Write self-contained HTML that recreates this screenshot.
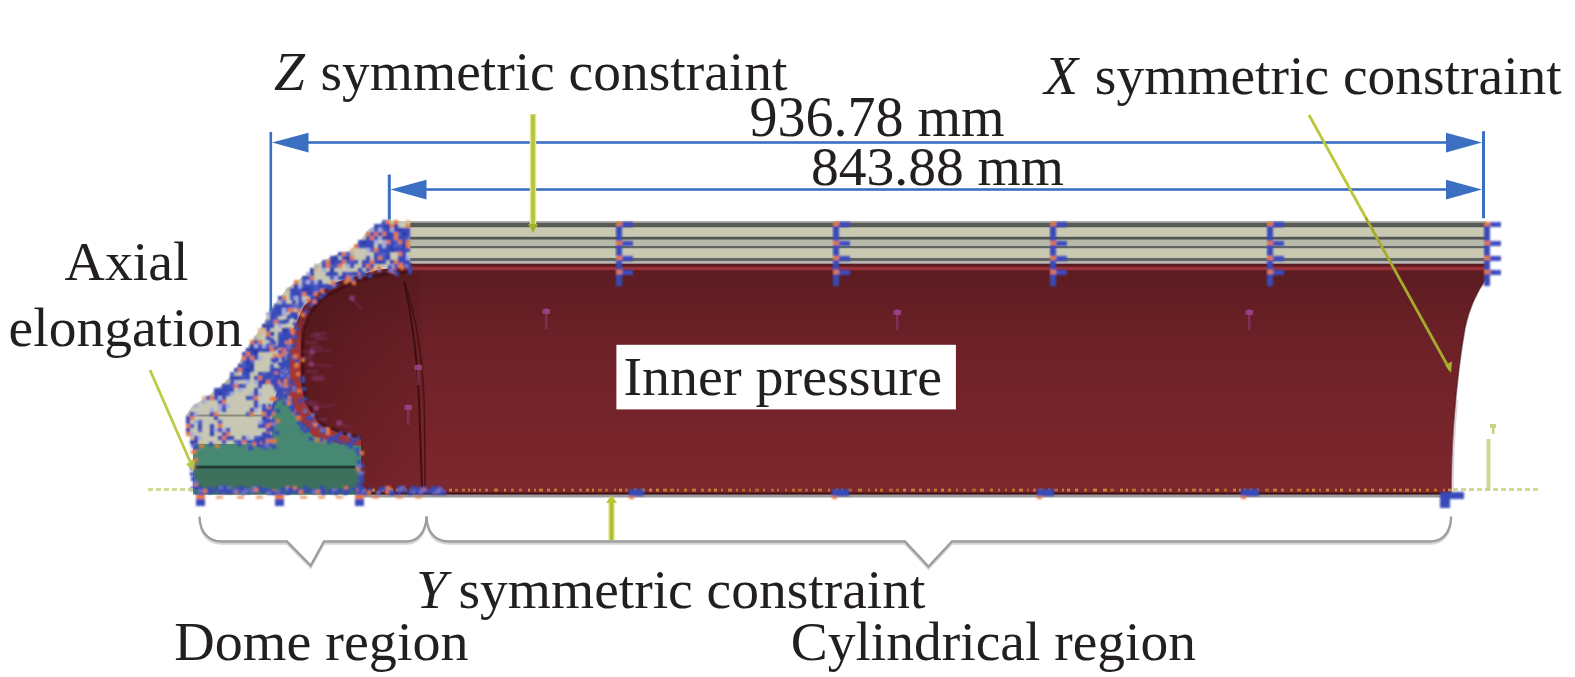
<!DOCTYPE html>
<html><head><meta charset="utf-8"><title>FE model</title>
<style>html,body{margin:0;padding:0;background:#fff;width:1575px;height:677px;overflow:hidden} svg{display:block}</style>
</head><body>
<svg width="1575" height="677" viewBox="0 0 1575 677">
<defs>
<linearGradient id="gBody" x1="0" y1="266" x2="0" y2="494" gradientUnits="userSpaceOnUse">
 <stop offset="0" stop-color="#5b1c21"/>
 <stop offset="0.3" stop-color="#6b2127"/>
 <stop offset="0.7" stop-color="#77242b"/>
 <stop offset="1" stop-color="#7e272e"/>
</linearGradient>
<linearGradient id="gDome" x1="292" y1="0" x2="424" y2="0" gradientUnits="userSpaceOnUse">
 <stop offset="0" stop-color="#1a0000" stop-opacity="0.28"/>
 <stop offset="0.5" stop-color="#1a0000" stop-opacity="0.14"/>
 <stop offset="0.97" stop-color="#1a0000" stop-opacity="0.06"/>
 <stop offset="1" stop-color="#1a0000" stop-opacity="0"/>
</linearGradient>
<linearGradient id="gLiner" x1="0" y1="290" x2="0" y2="345" gradientUnits="userSpaceOnUse">
 <stop offset="0" stop-color="#5e1a24"/>
 <stop offset="0.5" stop-color="#7a2630"/>
 <stop offset="1" stop-color="#a03638"/>
</linearGradient>
<filter id="soft" x="-5%" y="-5%" width="110%" height="110%"><feGaussianBlur stdDeviation="0.85"/></filter>
</defs>
<rect width="1575" height="677" fill="#fff"/>
<g font-family="'Liberation Serif', serif" font-size="55.5" fill="#231f20">
<polygon points="296,300 330,281 380,266 412,262 412,300 300,452 287,420 284,380 288,340" fill="#8a2e34"/>
<path d="M408,264 L1486,264 L1486,279 C1478,290 1469,308 1465,328 C1461,350 1458,375 1456,396 C1454,420 1451.5,440 1451.2,493 L360,493 L360,441 L346,438 L321,428 L304,405 L299,380 L300,348 L304,328 L314,304 L328,293 L338,285 L353,279 L378,270 Z" fill="url(#gBody)"/>
<path d="M408,264 L1486,264 L1486,279 C1478,290 1469,308 1465,328 C1461,350 1458,375 1456,396 C1454,420 1451.5,440 1451.2,493 L360,493 L360,441 L346,438 L321,428 L304,405 L299,380 L300,348 L304,328 L314,304 L328,293 L338,285 L353,279 L378,270 Z" fill="url(#gDome)"/>
<path d="M1486,279 C1478,290 1469,308 1465,328 C1461,350 1458,375 1456,396 C1454,420 1451.5,440 1451.2,493" fill="none" stroke="#40101a" stroke-width="1.6" opacity="0.55"/>
<path d="M1457.5,400 C1455.5,420 1453.2,440 1453,490" fill="none" stroke="#d8c4cc" stroke-width="1.4" opacity="0.8"/>
<path d="M404,281 C408,300 417,340 419,400 C420,430 421,460 422,488" stroke="#3a0b10" stroke-width="2" fill="none" opacity="0.85"/>
<path d="M405,283 C414,310 422,350 424,400 C425,430 425,460 425,488" stroke="#3a0b10" stroke-width="1.6" fill="none" opacity="0.7"/>
<rect x="404" y="221.2" width="1082" height="1.60" fill="#9c9c98"/>
<rect x="404" y="222.8" width="1082" height="4.80" fill="#575957"/>
<rect x="404" y="227.6" width="1082" height="9.10" fill="#c9c9b2"/>
<rect x="404" y="236.7" width="1082" height="3.10" fill="#545854"/>
<rect x="404" y="239.8" width="1082" height="6.20" fill="#b7baaa"/>
<rect x="404" y="246" width="1082" height="2.60" fill="#636763"/>
<rect x="404" y="248.6" width="1082" height="9.30" fill="#c9c9b2"/>
<rect x="404" y="257.9" width="1082" height="3.10" fill="#626662"/>
<rect x="404" y="261" width="1082" height="2.60" fill="#b3b6b1"/>
<rect x="404" y="263.6" width="1082" height="3.10" fill="#5a1b21"/>
<rect x="404" y="266.7" width="1082" height="3.60" fill="#9a313a"/>
<rect x="360" y="492.6" width="1091" height="2.2" fill="#3d1015"/>
<rect x="360" y="494.8" width="1091" height="2.7" fill="#9c9a9c"/>
<rect x="362" y="488.6" width="4" height="3" fill="#c88a30" opacity="0.85"/>
<rect x="372" y="488.6" width="3" height="3" fill="#d09838" opacity="0.85"/>
<rect x="381" y="488.6" width="3" height="3" fill="#c87a2c" opacity="0.85"/>
<rect x="390" y="488.6" width="3" height="3" fill="#d09838" opacity="0.85"/>
<rect x="396" y="488.6" width="2" height="3" fill="#c88a30" opacity="0.85"/>
<rect x="404" y="488.6" width="3" height="3" fill="#c87a2c" opacity="0.85"/>
<rect x="410" y="488.6" width="2" height="3" fill="#c87a2c" opacity="0.85"/>
<rect x="416" y="488.6" width="3" height="3" fill="#c87a2c" opacity="0.85"/>
<rect x="425" y="488.6" width="3" height="3" fill="#c88a30" opacity="0.85"/>
<rect x="432" y="488.6" width="3" height="3" fill="#b8702a" opacity="0.85"/>
<rect x="441" y="488.6" width="2" height="3" fill="#c87a2c" opacity="0.85"/>
<rect x="449" y="488.6" width="3" height="3" fill="#c88a30" opacity="0.85"/>
<rect x="455" y="488.6" width="3" height="3" fill="#b8702a" opacity="0.85"/>
<rect x="462" y="488.6" width="3" height="3" fill="#c87a2c" opacity="0.85"/>
<rect x="468" y="488.6" width="2" height="3" fill="#c88a30" opacity="0.85"/>
<rect x="473" y="488.6" width="3" height="3" fill="#c88a30" opacity="0.85"/>
<rect x="479" y="488.6" width="2" height="3" fill="#c87a2c" opacity="0.85"/>
<rect x="485" y="488.6" width="3" height="3" fill="#c87a2c" opacity="0.85"/>
<rect x="494" y="488.6" width="4" height="3" fill="#c88a30" opacity="0.85"/>
<rect x="504" y="488.6" width="2" height="3" fill="#d09838" opacity="0.85"/>
<rect x="511" y="488.6" width="3" height="3" fill="#c87a2c" opacity="0.85"/>
<rect x="519" y="488.6" width="3" height="3" fill="#c87a2c" opacity="0.85"/>
<rect x="528" y="488.6" width="2" height="3" fill="#d09838" opacity="0.85"/>
<rect x="534" y="488.6" width="2" height="3" fill="#c87a2c" opacity="0.85"/>
<rect x="539" y="488.6" width="4" height="3" fill="#c88a30" opacity="0.85"/>
<rect x="547" y="488.6" width="3" height="3" fill="#c88a30" opacity="0.85"/>
<rect x="554" y="488.6" width="3" height="3" fill="#c88a30" opacity="0.85"/>
<rect x="563" y="488.6" width="2" height="3" fill="#c88a30" opacity="0.85"/>
<rect x="571" y="488.6" width="3" height="3" fill="#c87a2c" opacity="0.85"/>
<rect x="579" y="488.6" width="3" height="3" fill="#c87a2c" opacity="0.85"/>
<rect x="586" y="488.6" width="3" height="3" fill="#c88a30" opacity="0.85"/>
<rect x="592" y="488.6" width="2" height="3" fill="#d09838" opacity="0.85"/>
<rect x="598" y="488.6" width="4" height="3" fill="#b8702a" opacity="0.85"/>
<rect x="605" y="488.6" width="3" height="3" fill="#b8702a" opacity="0.85"/>
<rect x="614" y="488.6" width="2" height="3" fill="#c87a2c" opacity="0.85"/>
<rect x="619" y="488.6" width="3" height="3" fill="#d09838" opacity="0.85"/>
<rect x="625" y="488.6" width="3" height="3" fill="#b8702a" opacity="0.85"/>
<rect x="634" y="488.6" width="3" height="3" fill="#c88a30" opacity="0.85"/>
<rect x="641" y="488.6" width="4" height="3" fill="#d09838" opacity="0.85"/>
<rect x="649" y="488.6" width="3" height="3" fill="#d09838" opacity="0.85"/>
<rect x="656" y="488.6" width="3" height="3" fill="#d09838" opacity="0.85"/>
<rect x="663" y="488.6" width="4" height="3" fill="#c88a30" opacity="0.85"/>
<rect x="670" y="488.6" width="4" height="3" fill="#c87a2c" opacity="0.85"/>
<rect x="677" y="488.6" width="2" height="3" fill="#c87a2c" opacity="0.85"/>
<rect x="684" y="488.6" width="3" height="3" fill="#c88a30" opacity="0.85"/>
<rect x="692" y="488.6" width="4" height="3" fill="#c88a30" opacity="0.85"/>
<rect x="701" y="488.6" width="3" height="3" fill="#c87a2c" opacity="0.85"/>
<rect x="708" y="488.6" width="3" height="3" fill="#c88a30" opacity="0.85"/>
<rect x="714" y="488.6" width="3" height="3" fill="#d09838" opacity="0.85"/>
<rect x="721" y="488.6" width="2" height="3" fill="#c87a2c" opacity="0.85"/>
<rect x="728" y="488.6" width="4" height="3" fill="#c88a30" opacity="0.85"/>
<rect x="736" y="488.6" width="2" height="3" fill="#c87a2c" opacity="0.85"/>
<rect x="742" y="488.6" width="3" height="3" fill="#b8702a" opacity="0.85"/>
<rect x="749" y="488.6" width="2" height="3" fill="#b8702a" opacity="0.85"/>
<rect x="755" y="488.6" width="4" height="3" fill="#b8702a" opacity="0.85"/>
<rect x="763" y="488.6" width="2" height="3" fill="#c87a2c" opacity="0.85"/>
<rect x="771" y="488.6" width="3" height="3" fill="#b8702a" opacity="0.85"/>
<rect x="777" y="488.6" width="2" height="3" fill="#c87a2c" opacity="0.85"/>
<rect x="785" y="488.6" width="2" height="3" fill="#b8702a" opacity="0.85"/>
<rect x="792" y="488.6" width="3" height="3" fill="#c87a2c" opacity="0.85"/>
<rect x="798" y="488.6" width="4" height="3" fill="#b8702a" opacity="0.85"/>
<rect x="805" y="488.6" width="3" height="3" fill="#b8702a" opacity="0.85"/>
<rect x="813" y="488.6" width="2" height="3" fill="#c88a30" opacity="0.85"/>
<rect x="818" y="488.6" width="4" height="3" fill="#c87a2c" opacity="0.85"/>
<rect x="828" y="488.6" width="2" height="3" fill="#c88a30" opacity="0.85"/>
<rect x="836" y="488.6" width="2" height="3" fill="#c87a2c" opacity="0.85"/>
<rect x="841" y="488.6" width="2" height="3" fill="#c87a2c" opacity="0.85"/>
<rect x="848" y="488.6" width="4" height="3" fill="#b8702a" opacity="0.85"/>
<rect x="858" y="488.6" width="4" height="3" fill="#c88a30" opacity="0.85"/>
<rect x="868" y="488.6" width="2" height="3" fill="#c87a2c" opacity="0.85"/>
<rect x="875" y="488.6" width="2" height="3" fill="#c88a30" opacity="0.85"/>
<rect x="880" y="488.6" width="3" height="3" fill="#c87a2c" opacity="0.85"/>
<rect x="889" y="488.6" width="4" height="3" fill="#b8702a" opacity="0.85"/>
<rect x="896" y="488.6" width="3" height="3" fill="#b8702a" opacity="0.85"/>
<rect x="903" y="488.6" width="3" height="3" fill="#d09838" opacity="0.85"/>
<rect x="911" y="488.6" width="4" height="3" fill="#c88a30" opacity="0.85"/>
<rect x="919" y="488.6" width="3" height="3" fill="#c88a30" opacity="0.85"/>
<rect x="927" y="488.6" width="3" height="3" fill="#c88a30" opacity="0.85"/>
<rect x="934" y="488.6" width="3" height="3" fill="#c88a30" opacity="0.85"/>
<rect x="941" y="488.6" width="3" height="3" fill="#d09838" opacity="0.85"/>
<rect x="948" y="488.6" width="3" height="3" fill="#c88a30" opacity="0.85"/>
<rect x="956" y="488.6" width="2" height="3" fill="#c87a2c" opacity="0.85"/>
<rect x="963" y="488.6" width="3" height="3" fill="#c87a2c" opacity="0.85"/>
<rect x="972" y="488.6" width="4" height="3" fill="#b8702a" opacity="0.85"/>
<rect x="980" y="488.6" width="4" height="3" fill="#c88a30" opacity="0.85"/>
<rect x="990" y="488.6" width="3" height="3" fill="#c88a30" opacity="0.85"/>
<rect x="998" y="488.6" width="2" height="3" fill="#c87a2c" opacity="0.85"/>
<rect x="1005" y="488.6" width="2" height="3" fill="#b8702a" opacity="0.85"/>
<rect x="1012" y="488.6" width="3" height="3" fill="#c87a2c" opacity="0.85"/>
<rect x="1019" y="488.6" width="4" height="3" fill="#c88a30" opacity="0.85"/>
<rect x="1027" y="488.6" width="2" height="3" fill="#b8702a" opacity="0.85"/>
<rect x="1033" y="488.6" width="3" height="3" fill="#c87a2c" opacity="0.85"/>
<rect x="1039" y="488.6" width="4" height="3" fill="#c87a2c" opacity="0.85"/>
<rect x="1048" y="488.6" width="2" height="3" fill="#d09838" opacity="0.85"/>
<rect x="1054" y="488.6" width="4" height="3" fill="#b8702a" opacity="0.85"/>
<rect x="1062" y="488.6" width="2" height="3" fill="#c88a30" opacity="0.85"/>
<rect x="1067" y="488.6" width="3" height="3" fill="#d09838" opacity="0.85"/>
<rect x="1075" y="488.6" width="3" height="3" fill="#d09838" opacity="0.85"/>
<rect x="1084" y="488.6" width="3" height="3" fill="#c87a2c" opacity="0.85"/>
<rect x="1093" y="488.6" width="4" height="3" fill="#d09838" opacity="0.85"/>
<rect x="1103" y="488.6" width="4" height="3" fill="#d09838" opacity="0.85"/>
<rect x="1110" y="488.6" width="4" height="3" fill="#b8702a" opacity="0.85"/>
<rect x="1120" y="488.6" width="3" height="3" fill="#d09838" opacity="0.85"/>
<rect x="1126" y="488.6" width="2" height="3" fill="#d09838" opacity="0.85"/>
<rect x="1132" y="488.6" width="4" height="3" fill="#c87a2c" opacity="0.85"/>
<rect x="1141" y="488.6" width="3" height="3" fill="#b8702a" opacity="0.85"/>
<rect x="1147" y="488.6" width="3" height="3" fill="#c87a2c" opacity="0.85"/>
<rect x="1153" y="488.6" width="4" height="3" fill="#b8702a" opacity="0.85"/>
<rect x="1163" y="488.6" width="3" height="3" fill="#c88a30" opacity="0.85"/>
<rect x="1169" y="488.6" width="3" height="3" fill="#c87a2c" opacity="0.85"/>
<rect x="1178" y="488.6" width="2" height="3" fill="#d09838" opacity="0.85"/>
<rect x="1185" y="488.6" width="3" height="3" fill="#c88a30" opacity="0.85"/>
<rect x="1192" y="488.6" width="4" height="3" fill="#c88a30" opacity="0.85"/>
<rect x="1199" y="488.6" width="3" height="3" fill="#c88a30" opacity="0.85"/>
<rect x="1207" y="488.6" width="3" height="3" fill="#b8702a" opacity="0.85"/>
<rect x="1215" y="488.6" width="4" height="3" fill="#d09838" opacity="0.85"/>
<rect x="1224" y="488.6" width="3" height="3" fill="#b8702a" opacity="0.85"/>
<rect x="1233" y="488.6" width="3" height="3" fill="#c88a30" opacity="0.85"/>
<rect x="1239" y="488.6" width="2" height="3" fill="#c88a30" opacity="0.85"/>
<rect x="1244" y="488.6" width="2" height="3" fill="#c88a30" opacity="0.85"/>
<rect x="1249" y="488.6" width="4" height="3" fill="#c87a2c" opacity="0.85"/>
<rect x="1257" y="488.6" width="2" height="3" fill="#c88a30" opacity="0.85"/>
<rect x="1265" y="488.6" width="4" height="3" fill="#b8702a" opacity="0.85"/>
<rect x="1273" y="488.6" width="4" height="3" fill="#c88a30" opacity="0.85"/>
<rect x="1281" y="488.6" width="3" height="3" fill="#c88a30" opacity="0.85"/>
<rect x="1290" y="488.6" width="3" height="3" fill="#c87a2c" opacity="0.85"/>
<rect x="1297" y="488.6" width="4" height="3" fill="#c87a2c" opacity="0.85"/>
<rect x="1306" y="488.6" width="3" height="3" fill="#c87a2c" opacity="0.85"/>
<rect x="1312" y="488.6" width="3" height="3" fill="#d09838" opacity="0.85"/>
<rect x="1319" y="488.6" width="2" height="3" fill="#b8702a" opacity="0.85"/>
<rect x="1326" y="488.6" width="3" height="3" fill="#d09838" opacity="0.85"/>
<rect x="1335" y="488.6" width="2" height="3" fill="#c88a30" opacity="0.85"/>
<rect x="1340" y="488.6" width="3" height="3" fill="#d09838" opacity="0.85"/>
<rect x="1349" y="488.6" width="2" height="3" fill="#c88a30" opacity="0.85"/>
<rect x="1357" y="488.6" width="3" height="3" fill="#d09838" opacity="0.85"/>
<rect x="1364" y="488.6" width="3" height="3" fill="#d09838" opacity="0.85"/>
<rect x="1371" y="488.6" width="3" height="3" fill="#d09838" opacity="0.85"/>
<rect x="1379" y="488.6" width="3" height="3" fill="#d09838" opacity="0.85"/>
<rect x="1386" y="488.6" width="3" height="3" fill="#c87a2c" opacity="0.85"/>
<rect x="1393" y="488.6" width="3" height="3" fill="#d09838" opacity="0.85"/>
<rect x="1399" y="488.6" width="3" height="3" fill="#c88a30" opacity="0.85"/>
<rect x="1405" y="488.6" width="4" height="3" fill="#c88a30" opacity="0.85"/>
<rect x="1413" y="488.6" width="3" height="3" fill="#c88a30" opacity="0.85"/>
<rect x="1419" y="488.6" width="2" height="3" fill="#d09838" opacity="0.85"/>
<rect x="1426" y="488.6" width="3" height="3" fill="#c87a2c" opacity="0.85"/>
<rect x="1434" y="488.6" width="3" height="3" fill="#c87a2c" opacity="0.85"/>
<rect x="1443" y="488.6" width="2" height="3" fill="#c87a2c" opacity="0.85"/>
<rect x="1448" y="488.6" width="4" height="3" fill="#d09838" opacity="0.85"/>
<polygon points="410.0,221.0 396.0,221.0 387.0,219.5 368.0,230.0 360.0,241.0 350.0,251.0 339.0,253.0 319.0,263.0 307.6,274.0 298.0,280.0 287.5,288.0 277.0,301.0 269.0,311.0 262.7,325.5 252.4,340.0 244.0,352.4 235.8,369.0 227.6,379.3 219.3,387.5 204.8,398.0 192.4,406.0 186.2,414.4 188.0,430.0 192.0,445.0 272.0,445.0 272.0,405.0 283.0,376.0 288.0,372.0 289.0,350.0 293.0,330.0 304.0,306.0 318.0,292.0 335.0,283.0 352.0,277.0 378.0,270.0 410.0,266.0" fill="#c8c8b4"/>
<path d="M410,266 L378,270 L352,277 L335,283 L318,292 L304,306 L293,330 L289,350 L288,372 L289,395 L296,416 L313,437 L340,446 L361,447 L361,439 L346,435 L320,425 L305,403 L301,380 L301,348 L302,330 L310,310 L322,297 L338,288 L354,281 L380,273 L410,269 Z" fill="url(#gLiner)"/>
<polyline points="408,271.5 380,275 355,282 340,289 323,298 311,311 303,330 302.5,348 302.5,380 306.5,402 321,424 346,434 361,438" fill="none" stroke="#3c0c12" stroke-width="3.5" opacity="0.55"/>
<polygon points="193.0,444.0 272.0,444.0 272.0,408.0 282.0,386.0 289.5,383.0 290.0,398.0 297.0,418.0 313.0,436.0 340.0,444.0 361.0,446.0 361.0,494.5 193.0,494.5" fill="#478873"/>
<polygon points="271,412 272,405 283,376 289,371 290,396 281,397" fill="#4250b4"/>
<rect x="195" y="467" width="166" height="27.5" fill="#3e705e"/>
<rect x="195" y="465.6" width="160" height="2.8" fill="#223c33"/>
<rect x="190" y="414.5" width="80" height="2" fill="#8a8a80"/>
<g filter="url(#soft)"><rect x="382" y="220" width="4" height="4" fill="#4a5ac4"/><rect x="394" y="220" width="4" height="4" fill="#e27c38"/><rect x="406" y="220" width="4" height="4" fill="#d8b890"/><rect x="374" y="224" width="4" height="4" fill="#3848b8"/><rect x="366" y="232" width="4" height="4" fill="#e27c38"/><rect x="358" y="244" width="4" height="4" fill="#3848b8"/><rect x="350" y="248" width="4" height="4" fill="#d8b890"/><rect x="342" y="252" width="4" height="4" fill="#e27c38"/><rect x="346" y="252" width="4" height="4" fill="#4a5ac4"/><rect x="350" y="252" width="4" height="4" fill="#b0b0a8"/><rect x="330" y="256" width="4" height="4" fill="#3848b8"/><rect x="334" y="256" width="4" height="4" fill="#2c3aa8"/><rect x="322" y="260" width="4" height="4" fill="#4a5ac4"/><rect x="326" y="260" width="4" height="4" fill="#e27c38"/><rect x="314" y="264" width="4" height="4" fill="#b0b0a8"/><rect x="310" y="268" width="4" height="4" fill="#2c3aa8"/><rect x="314" y="268" width="4" height="4" fill="#d8b890"/><rect x="286" y="288" width="4" height="4" fill="#b0b0a8"/><rect x="278" y="296" width="4" height="4" fill="#3848b8"/><rect x="282" y="296" width="4" height="4" fill="#e27c38"/><rect x="266" y="312" width="4" height="4" fill="#a6acdc"/><rect x="262" y="324" width="4" height="4" fill="#2c3aa8"/><rect x="258" y="328" width="4" height="4" fill="#d8b890"/><rect x="262" y="328" width="4" height="4" fill="#d8b890"/><rect x="258" y="332" width="4" height="4" fill="#d8b890"/><rect x="254" y="336" width="4" height="4" fill="#b0b0a8"/><rect x="242" y="352" width="4" height="4" fill="#3848b8"/><rect x="234" y="372" width="4" height="4" fill="#b0b0a8"/><rect x="226" y="380" width="4" height="4" fill="#b0b0a8"/><rect x="202" y="396" width="4" height="4" fill="#d8b890"/><rect x="206" y="396" width="4" height="4" fill="#4a5ac4"/><rect x="202" y="400" width="4" height="4" fill="#a6acdc"/><rect x="194" y="404" width="4" height="4" fill="#a6acdc"/><rect x="186" y="416" width="4" height="4" fill="#3848b8"/><rect x="186" y="424" width="4" height="4" fill="#e27c38"/><rect x="190" y="432" width="4" height="4" fill="#a6acdc"/><rect x="190" y="436" width="4" height="4" fill="#d8b890"/><rect x="266" y="380" width="4" height="4" fill="#e27c38"/><rect x="270" y="380" width="4" height="4" fill="#3848b8"/><rect x="262" y="380" width="4" height="4" fill="#2c3aa8"/><rect x="258" y="380" width="4" height="4" fill="#3848b8"/><rect x="262" y="376" width="4" height="4" fill="#3848b8"/><rect x="370" y="236" width="4" height="4" fill="#e27c38"/><rect x="366" y="236" width="4" height="4" fill="#3848b8"/><rect x="370" y="240" width="4" height="4" fill="#3848b8"/><rect x="266" y="348" width="4" height="4" fill="#3848b8"/><rect x="270" y="348" width="4" height="4" fill="#3848b8"/><rect x="262" y="348" width="4" height="4" fill="#3848b8"/><rect x="266" y="344" width="4" height="4" fill="#3848b8"/><rect x="262" y="344" width="4" height="4" fill="#a6acdc"/><rect x="390" y="244" width="4" height="4" fill="#3848b8"/><rect x="390" y="248" width="4" height="4" fill="#2c3aa8"/><rect x="402" y="252" width="4" height="4" fill="#3848b8"/><rect x="398" y="252" width="4" height="4" fill="#e27c38"/><rect x="402" y="256" width="4" height="4" fill="#3848b8"/><rect x="402" y="260" width="4" height="4" fill="#3848b8"/><rect x="402" y="248" width="4" height="4" fill="#3848b8"/><rect x="278" y="372" width="4" height="4" fill="#3848b8"/><rect x="278" y="376" width="4" height="4" fill="#3848b8"/><rect x="278" y="380" width="4" height="4" fill="#e27c38"/><rect x="378" y="224" width="4" height="4" fill="#4a5ac4"/><rect x="382" y="224" width="4" height="4" fill="#3848b8"/><rect x="374" y="228" width="4" height="4" fill="#3848b8"/><rect x="262" y="424" width="4" height="4" fill="#3848b8"/><rect x="266" y="424" width="4" height="4" fill="#e27c38"/><rect x="258" y="424" width="4" height="4" fill="#3848b8"/><rect x="258" y="420" width="4" height="4" fill="#a6acdc"/><rect x="298" y="304" width="4" height="4" fill="#3848b8"/><rect x="298" y="308" width="4" height="4" fill="#4a5ac4"/><rect x="302" y="300" width="4" height="4" fill="#a6acdc"/><rect x="406" y="228" width="4" height="4" fill="#3848b8"/><rect x="402" y="228" width="4" height="4" fill="#3848b8"/><rect x="406" y="232" width="4" height="4" fill="#3848b8"/><rect x="286" y="368" width="4" height="4" fill="#4a5ac4"/><rect x="282" y="368" width="4" height="4" fill="#3848b8"/><rect x="278" y="368" width="4" height="4" fill="#3848b8"/><rect x="266" y="440" width="4" height="4" fill="#3848b8"/><rect x="270" y="440" width="4" height="4" fill="#2c3aa8"/><rect x="266" y="444" width="4" height="4" fill="#4a5ac4"/><rect x="266" y="436" width="4" height="4" fill="#3848b8"/><rect x="262" y="436" width="4" height="4" fill="#3848b8"/><rect x="198" y="424" width="4" height="4" fill="#3848b8"/><rect x="198" y="428" width="4" height="4" fill="#4a5ac4"/><rect x="198" y="420" width="4" height="4" fill="#4a5ac4"/><rect x="326" y="264" width="4" height="4" fill="#e27c38"/><rect x="330" y="264" width="4" height="4" fill="#4a5ac4"/><rect x="322" y="264" width="4" height="4" fill="#3848b8"/><rect x="382" y="228" width="4" height="4" fill="#4a5ac4"/><rect x="386" y="228" width="4" height="4" fill="#3848b8"/><rect x="386" y="224" width="4" height="4" fill="#2c3aa8"/><rect x="370" y="228" width="4" height="4" fill="#a6acdc"/><rect x="362" y="244" width="4" height="4" fill="#3848b8"/><rect x="366" y="244" width="4" height="4" fill="#3848b8"/><rect x="354" y="244" width="4" height="4" fill="#e27c38"/><rect x="366" y="248" width="4" height="4" fill="#a6acdc"/><rect x="378" y="248" width="4" height="4" fill="#3848b8"/><rect x="382" y="248" width="4" height="4" fill="#3848b8"/><rect x="386" y="248" width="4" height="4" fill="#3848b8"/><rect x="378" y="252" width="4" height="4" fill="#4a5ac4"/><rect x="378" y="244" width="4" height="4" fill="#3848b8"/><rect x="382" y="244" width="4" height="4" fill="#a6acdc"/><rect x="270" y="312" width="4" height="4" fill="#3848b8"/><rect x="274" y="312" width="4" height="4" fill="#3848b8"/><rect x="278" y="312" width="4" height="4" fill="#3848b8"/><rect x="270" y="316" width="4" height="4" fill="#3848b8"/><rect x="270" y="308" width="4" height="4" fill="#4a5ac4"/><rect x="214" y="388" width="4" height="4" fill="#3848b8"/><rect x="214" y="392" width="4" height="4" fill="#3848b8"/><rect x="386" y="236" width="4" height="4" fill="#2c3aa8"/><rect x="390" y="236" width="4" height="4" fill="#3848b8"/><rect x="382" y="236" width="4" height="4" fill="#2c3aa8"/><rect x="386" y="240" width="4" height="4" fill="#e27c38"/><rect x="386" y="232" width="4" height="4" fill="#3848b8"/><rect x="382" y="240" width="4" height="4" fill="#a6acdc"/><rect x="242" y="376" width="4" height="4" fill="#4a5ac4"/><rect x="246" y="376" width="4" height="4" fill="#3848b8"/><rect x="238" y="376" width="4" height="4" fill="#3848b8"/><rect x="234" y="376" width="4" height="4" fill="#2c3aa8"/><rect x="242" y="372" width="4" height="4" fill="#3848b8"/><rect x="246" y="380" width="4" height="4" fill="#a6acdc"/><rect x="226" y="388" width="4" height="4" fill="#3848b8"/><rect x="222" y="388" width="4" height="4" fill="#3848b8"/><rect x="226" y="392" width="4" height="4" fill="#4a5ac4"/><rect x="226" y="384" width="4" height="4" fill="#3848b8"/><rect x="230" y="392" width="4" height="4" fill="#a6acdc"/><rect x="222" y="392" width="4" height="4" fill="#3848b8"/><rect x="230" y="384" width="4" height="4" fill="#4a5ac4"/><rect x="210" y="396" width="4" height="4" fill="#e27c38"/><rect x="214" y="396" width="4" height="4" fill="#3848b8"/><rect x="254" y="352" width="4" height="4" fill="#2c3aa8"/><rect x="250" y="352" width="4" height="4" fill="#3848b8"/><rect x="254" y="356" width="4" height="4" fill="#3848b8"/><rect x="254" y="348" width="4" height="4" fill="#2c3aa8"/><rect x="258" y="356" width="4" height="4" fill="#a6acdc"/><rect x="250" y="348" width="4" height="4" fill="#2c3aa8"/><rect x="250" y="368" width="4" height="4" fill="#3848b8"/><rect x="246" y="368" width="4" height="4" fill="#2c3aa8"/><rect x="242" y="368" width="4" height="4" fill="#3848b8"/><rect x="246" y="364" width="4" height="4" fill="#3848b8"/><rect x="274" y="384" width="4" height="4" fill="#a6acdc"/><rect x="274" y="376" width="4" height="4" fill="#3848b8"/><rect x="394" y="236" width="4" height="4" fill="#e27c38"/><rect x="394" y="240" width="4" height="4" fill="#4a5ac4"/><rect x="394" y="244" width="4" height="4" fill="#4a5ac4"/><rect x="394" y="232" width="4" height="4" fill="#e27c38"/><rect x="394" y="228" width="4" height="4" fill="#3848b8"/><rect x="398" y="240" width="4" height="4" fill="#e27c38"/><rect x="386" y="244" width="4" height="4" fill="#3848b8"/><rect x="394" y="248" width="4" height="4" fill="#3848b8"/><rect x="318" y="284" width="4" height="4" fill="#3848b8"/><rect x="318" y="288" width="4" height="4" fill="#3848b8"/><rect x="318" y="280" width="4" height="4" fill="#2c3aa8"/><rect x="314" y="288" width="4" height="4" fill="#4a5ac4"/><rect x="342" y="256" width="4" height="4" fill="#3848b8"/><rect x="338" y="252" width="4" height="4" fill="#3848b8"/><rect x="186" y="432" width="4" height="4" fill="#e27c38"/><rect x="250" y="356" width="4" height="4" fill="#e27c38"/><rect x="246" y="356" width="4" height="4" fill="#3848b8"/><rect x="242" y="356" width="4" height="4" fill="#e27c38"/><rect x="250" y="360" width="4" height="4" fill="#4a5ac4"/><rect x="246" y="360" width="4" height="4" fill="#2c3aa8"/><rect x="250" y="364" width="4" height="4" fill="#2c3aa8"/><rect x="242" y="364" width="4" height="4" fill="#4a5ac4"/><rect x="246" y="372" width="4" height="4" fill="#3848b8"/><rect x="390" y="240" width="4" height="4" fill="#3848b8"/><rect x="270" y="372" width="4" height="4" fill="#3848b8"/><rect x="274" y="372" width="4" height="4" fill="#e27c38"/><rect x="266" y="372" width="4" height="4" fill="#3848b8"/><rect x="262" y="372" width="4" height="4" fill="#4a5ac4"/><rect x="270" y="376" width="4" height="4" fill="#4a5ac4"/><rect x="270" y="368" width="4" height="4" fill="#3848b8"/><rect x="270" y="364" width="4" height="4" fill="#4a5ac4"/><rect x="274" y="368" width="4" height="4" fill="#3848b8"/><rect x="386" y="220" width="4" height="4" fill="#e27c38"/><rect x="406" y="260" width="4" height="4" fill="#2c3aa8"/><rect x="398" y="260" width="4" height="4" fill="#3848b8"/><rect x="394" y="260" width="4" height="4" fill="#e27c38"/><rect x="406" y="264" width="4" height="4" fill="#a6acdc"/><rect x="398" y="256" width="4" height="4" fill="#3848b8"/><rect x="382" y="256" width="4" height="4" fill="#4a5ac4"/><rect x="378" y="256" width="4" height="4" fill="#e27c38"/><rect x="382" y="260" width="4" height="4" fill="#3848b8"/><rect x="382" y="252" width="4" height="4" fill="#4a5ac4"/><rect x="274" y="308" width="4" height="4" fill="#3848b8"/><rect x="278" y="308" width="4" height="4" fill="#3848b8"/><rect x="274" y="304" width="4" height="4" fill="#3848b8"/><rect x="398" y="232" width="4" height="4" fill="#4a5ac4"/><rect x="402" y="232" width="4" height="4" fill="#2c3aa8"/><rect x="398" y="236" width="4" height="4" fill="#3848b8"/><rect x="398" y="228" width="4" height="4" fill="#2c3aa8"/><rect x="378" y="228" width="4" height="4" fill="#a6acdc"/><rect x="314" y="292" width="4" height="4" fill="#e27c38"/><rect x="374" y="232" width="4" height="4" fill="#e27c38"/><rect x="378" y="236" width="4" height="4" fill="#a6acdc"/><rect x="258" y="340" width="4" height="4" fill="#e27c38"/><rect x="254" y="340" width="4" height="4" fill="#3848b8"/><rect x="258" y="344" width="4" height="4" fill="#3848b8"/><rect x="258" y="348" width="4" height="4" fill="#3848b8"/><rect x="254" y="344" width="4" height="4" fill="#a6acdc"/><rect x="274" y="320" width="4" height="4" fill="#e27c38"/><rect x="278" y="320" width="4" height="4" fill="#4a5ac4"/><rect x="282" y="320" width="4" height="4" fill="#3848b8"/><rect x="270" y="320" width="4" height="4" fill="#4a5ac4"/><rect x="266" y="320" width="4" height="4" fill="#4a5ac4"/><rect x="274" y="316" width="4" height="4" fill="#4a5ac4"/><rect x="278" y="324" width="4" height="4" fill="#a6acdc"/><rect x="302" y="292" width="4" height="4" fill="#e27c38"/><rect x="298" y="292" width="4" height="4" fill="#3848b8"/><rect x="298" y="288" width="4" height="4" fill="#4a5ac4"/><rect x="338" y="264" width="4" height="4" fill="#e27c38"/><rect x="342" y="260" width="4" height="4" fill="#e27c38"/><rect x="334" y="260" width="4" height="4" fill="#3848b8"/><rect x="230" y="372" width="4" height="4" fill="#4a5ac4"/><rect x="234" y="368" width="4" height="4" fill="#3848b8"/><rect x="334" y="264" width="4" height="4" fill="#4a5ac4"/><rect x="230" y="388" width="4" height="4" fill="#3848b8"/><rect x="218" y="388" width="4" height="4" fill="#3848b8"/><rect x="222" y="384" width="4" height="4" fill="#3848b8"/><rect x="238" y="440" width="4" height="4" fill="#4a5ac4"/><rect x="234" y="440" width="4" height="4" fill="#4a5ac4"/><rect x="390" y="232" width="4" height="4" fill="#3848b8"/><rect x="390" y="228" width="4" height="4" fill="#a6acdc"/><rect x="370" y="268" width="4" height="4" fill="#e27c38"/><rect x="366" y="268" width="4" height="4" fill="#3848b8"/><rect x="370" y="264" width="4" height="4" fill="#3848b8"/><rect x="398" y="248" width="4" height="4" fill="#3848b8"/><rect x="406" y="248" width="4" height="4" fill="#3848b8"/><rect x="398" y="244" width="4" height="4" fill="#4a5ac4"/><rect x="310" y="292" width="4" height="4" fill="#3848b8"/><rect x="254" y="440" width="4" height="4" fill="#2c3aa8"/><rect x="254" y="436" width="4" height="4" fill="#4a5ac4"/><rect x="322" y="284" width="4" height="4" fill="#3848b8"/><rect x="326" y="284" width="4" height="4" fill="#4a5ac4"/><rect x="406" y="224" width="4" height="4" fill="#e27c38"/><rect x="278" y="304" width="4" height="4" fill="#3848b8"/><rect x="278" y="300" width="4" height="4" fill="#a6acdc"/><rect x="266" y="416" width="4" height="4" fill="#4a5ac4"/><rect x="262" y="416" width="4" height="4" fill="#2c3aa8"/><rect x="266" y="412" width="4" height="4" fill="#3848b8"/><rect x="282" y="312" width="4" height="4" fill="#a6acdc"/><rect x="282" y="304" width="4" height="4" fill="#3848b8"/><rect x="282" y="300" width="4" height="4" fill="#4a5ac4"/><rect x="310" y="272" width="4" height="4" fill="#3848b8"/><rect x="310" y="284" width="4" height="4" fill="#3848b8"/><rect x="306" y="284" width="4" height="4" fill="#3848b8"/><rect x="310" y="288" width="4" height="4" fill="#3848b8"/><rect x="310" y="280" width="4" height="4" fill="#4a5ac4"/><rect x="306" y="288" width="4" height="4" fill="#2c3aa8"/><rect x="346" y="260" width="4" height="4" fill="#4a5ac4"/><rect x="338" y="260" width="4" height="4" fill="#3848b8"/><rect x="346" y="264" width="4" height="4" fill="#a6acdc"/><rect x="254" y="396" width="4" height="4" fill="#e27c38"/><rect x="250" y="396" width="4" height="4" fill="#4a5ac4"/><rect x="246" y="396" width="4" height="4" fill="#3848b8"/><rect x="254" y="400" width="4" height="4" fill="#3848b8"/><rect x="254" y="404" width="4" height="4" fill="#3848b8"/><rect x="254" y="392" width="4" height="4" fill="#2c3aa8"/><rect x="254" y="388" width="4" height="4" fill="#3848b8"/><rect x="258" y="392" width="4" height="4" fill="#a6acdc"/><rect x="250" y="392" width="4" height="4" fill="#a6acdc"/><rect x="190" y="416" width="4" height="4" fill="#e27c38"/><rect x="190" y="412" width="4" height="4" fill="#3848b8"/><rect x="194" y="420" width="4" height="4" fill="#a6acdc"/><rect x="186" y="420" width="4" height="4" fill="#3848b8"/><rect x="194" y="412" width="4" height="4" fill="#a6acdc"/><rect x="294" y="292" width="4" height="4" fill="#3848b8"/><rect x="298" y="296" width="4" height="4" fill="#4a5ac4"/><rect x="266" y="332" width="4" height="4" fill="#e27c38"/><rect x="270" y="332" width="4" height="4" fill="#2c3aa8"/><rect x="266" y="336" width="4" height="4" fill="#3848b8"/><rect x="290" y="332" width="4" height="4" fill="#e27c38"/><rect x="286" y="332" width="4" height="4" fill="#3848b8"/><rect x="286" y="328" width="4" height="4" fill="#3848b8"/><rect x="358" y="240" width="4" height="4" fill="#3848b8"/><rect x="362" y="240" width="4" height="4" fill="#2c3aa8"/><rect x="366" y="240" width="4" height="4" fill="#3848b8"/><rect x="294" y="288" width="4" height="4" fill="#3848b8"/><rect x="302" y="288" width="4" height="4" fill="#2c3aa8"/><rect x="290" y="288" width="4" height="4" fill="#3848b8"/><rect x="294" y="284" width="4" height="4" fill="#2c3aa8"/><rect x="290" y="292" width="4" height="4" fill="#3848b8"/><rect x="298" y="284" width="4" height="4" fill="#a6acdc"/><rect x="290" y="328" width="4" height="4" fill="#e27c38"/><rect x="286" y="304" width="4" height="4" fill="#3848b8"/><rect x="286" y="308" width="4" height="4" fill="#4a5ac4"/><rect x="290" y="308" width="4" height="4" fill="#e27c38"/><rect x="282" y="308" width="4" height="4" fill="#a6acdc"/><rect x="218" y="424" width="4" height="4" fill="#e27c38"/><rect x="218" y="428" width="4" height="4" fill="#3848b8"/><rect x="218" y="420" width="4" height="4" fill="#4a5ac4"/><rect x="222" y="428" width="4" height="4" fill="#a6acdc"/><rect x="214" y="428" width="4" height="4" fill="#a6acdc"/><rect x="342" y="276" width="4" height="4" fill="#2c3aa8"/><rect x="346" y="276" width="4" height="4" fill="#e27c38"/><rect x="338" y="276" width="4" height="4" fill="#3848b8"/><rect x="342" y="272" width="4" height="4" fill="#3848b8"/><rect x="346" y="272" width="4" height="4" fill="#4a5ac4"/><rect x="262" y="440" width="4" height="4" fill="#3848b8"/><rect x="266" y="324" width="4" height="4" fill="#3848b8"/><rect x="270" y="324" width="4" height="4" fill="#3848b8"/><rect x="354" y="272" width="4" height="4" fill="#2c3aa8"/><rect x="350" y="272" width="4" height="4" fill="#3848b8"/><rect x="282" y="332" width="4" height="4" fill="#3848b8"/><rect x="278" y="332" width="4" height="4" fill="#4a5ac4"/><rect x="282" y="336" width="4" height="4" fill="#3848b8"/><rect x="282" y="328" width="4" height="4" fill="#2c3aa8"/><rect x="190" y="424" width="4" height="4" fill="#4a5ac4"/><rect x="186" y="428" width="4" height="4" fill="#2c3aa8"/><rect x="390" y="260" width="4" height="4" fill="#2c3aa8"/><rect x="394" y="264" width="4" height="4" fill="#3848b8"/><rect x="390" y="264" width="4" height="4" fill="#a6acdc"/><rect x="250" y="340" width="4" height="4" fill="#e27c38"/><rect x="250" y="344" width="4" height="4" fill="#2c3aa8"/><rect x="386" y="256" width="4" height="4" fill="#2c3aa8"/><rect x="386" y="252" width="4" height="4" fill="#3848b8"/><rect x="370" y="260" width="4" height="4" fill="#e27c38"/><rect x="374" y="260" width="4" height="4" fill="#3848b8"/><rect x="366" y="260" width="4" height="4" fill="#3848b8"/><rect x="362" y="260" width="4" height="4" fill="#3848b8"/><rect x="366" y="264" width="4" height="4" fill="#e27c38"/><rect x="406" y="256" width="4" height="4" fill="#a6acdc"/><rect x="218" y="392" width="4" height="4" fill="#2c3aa8"/><rect x="210" y="424" width="4" height="4" fill="#3848b8"/><rect x="210" y="428" width="4" height="4" fill="#3848b8"/><rect x="210" y="432" width="4" height="4" fill="#2c3aa8"/><rect x="258" y="436" width="4" height="4" fill="#3848b8"/><rect x="262" y="432" width="4" height="4" fill="#3848b8"/><rect x="266" y="432" width="4" height="4" fill="#e27c38"/><rect x="194" y="440" width="4" height="4" fill="#3848b8"/><rect x="190" y="440" width="4" height="4" fill="#2c3aa8"/><rect x="194" y="436" width="4" height="4" fill="#3848b8"/><rect x="198" y="436" width="4" height="4" fill="#a6acdc"/><rect x="366" y="256" width="4" height="4" fill="#3848b8"/><rect x="290" y="296" width="4" height="4" fill="#4a5ac4"/><rect x="294" y="296" width="4" height="4" fill="#a6acdc"/><rect x="230" y="376" width="4" height="4" fill="#3848b8"/><rect x="230" y="380" width="4" height="4" fill="#3848b8"/><rect x="234" y="380" width="4" height="4" fill="#a6acdc"/><rect x="322" y="268" width="4" height="4" fill="#a6acdc"/><rect x="266" y="328" width="4" height="4" fill="#3848b8"/><rect x="370" y="244" width="4" height="4" fill="#3848b8"/><rect x="370" y="248" width="4" height="4" fill="#4a5ac4"/><rect x="402" y="240" width="4" height="4" fill="#3848b8"/><rect x="402" y="244" width="4" height="4" fill="#2c3aa8"/><rect x="402" y="236" width="4" height="4" fill="#3848b8"/><rect x="406" y="236" width="4" height="4" fill="#4a5ac4"/><rect x="374" y="248" width="4" height="4" fill="#e27c38"/><rect x="374" y="252" width="4" height="4" fill="#3848b8"/><rect x="374" y="256" width="4" height="4" fill="#3848b8"/><rect x="290" y="312" width="4" height="4" fill="#4a5ac4"/><rect x="290" y="304" width="4" height="4" fill="#4a5ac4"/><rect x="294" y="312" width="4" height="4" fill="#3848b8"/><rect x="222" y="440" width="4" height="4" fill="#3848b8"/><rect x="298" y="300" width="4" height="4" fill="#4a5ac4"/><rect x="294" y="304" width="4" height="4" fill="#3848b8"/><rect x="310" y="296" width="4" height="4" fill="#3848b8"/><rect x="286" y="344" width="4" height="4" fill="#3848b8"/><rect x="286" y="348" width="4" height="4" fill="#3848b8"/><rect x="286" y="340" width="4" height="4" fill="#3848b8"/><rect x="286" y="336" width="4" height="4" fill="#3848b8"/><rect x="282" y="364" width="4" height="4" fill="#3848b8"/><rect x="282" y="372" width="4" height="4" fill="#3848b8"/><rect x="282" y="360" width="4" height="4" fill="#3848b8"/><rect x="262" y="408" width="4" height="4" fill="#3848b8"/><rect x="266" y="408" width="4" height="4" fill="#4a5ac4"/><rect x="258" y="404" width="4" height="4" fill="#a6acdc"/><rect x="294" y="316" width="4" height="4" fill="#2c3aa8"/><rect x="306" y="292" width="4" height="4" fill="#3848b8"/><rect x="398" y="264" width="4" height="4" fill="#e27c38"/><rect x="402" y="264" width="4" height="4" fill="#3848b8"/><rect x="242" y="440" width="4" height="4" fill="#e27c38"/><rect x="246" y="440" width="4" height="4" fill="#3848b8"/><rect x="250" y="440" width="4" height="4" fill="#3848b8"/><rect x="242" y="436" width="4" height="4" fill="#3848b8"/><rect x="282" y="344" width="4" height="4" fill="#3848b8"/><rect x="278" y="344" width="4" height="4" fill="#3848b8"/><rect x="282" y="340" width="4" height="4" fill="#3848b8"/><rect x="222" y="400" width="4" height="4" fill="#e27c38"/><rect x="218" y="400" width="4" height="4" fill="#3848b8"/><rect x="222" y="404" width="4" height="4" fill="#4a5ac4"/><rect x="222" y="408" width="4" height="4" fill="#3848b8"/><rect x="222" y="396" width="4" height="4" fill="#3848b8"/><rect x="226" y="404" width="4" height="4" fill="#a6acdc"/><rect x="218" y="404" width="4" height="4" fill="#a6acdc"/><rect x="218" y="396" width="4" height="4" fill="#a6acdc"/><rect x="314" y="284" width="4" height="4" fill="#4a5ac4"/><rect x="314" y="280" width="4" height="4" fill="#a6acdc"/><rect x="306" y="280" width="4" height="4" fill="#a6acdc"/><rect x="246" y="352" width="4" height="4" fill="#e27c38"/><rect x="246" y="348" width="4" height="4" fill="#3848b8"/><rect x="266" y="420" width="4" height="4" fill="#3848b8"/><rect x="262" y="420" width="4" height="4" fill="#4a5ac4"/><rect x="274" y="380" width="4" height="4" fill="#2c3aa8"/><rect x="258" y="440" width="4" height="4" fill="#3848b8"/><rect x="214" y="412" width="4" height="4" fill="#e27c38"/><rect x="210" y="412" width="4" height="4" fill="#3848b8"/><rect x="214" y="416" width="4" height="4" fill="#3848b8"/><rect x="218" y="408" width="4" height="4" fill="#a6acdc"/><rect x="210" y="408" width="4" height="4" fill="#a6acdc"/><rect x="286" y="364" width="4" height="4" fill="#3848b8"/><rect x="286" y="360" width="4" height="4" fill="#3848b8"/><rect x="246" y="436" width="4" height="4" fill="#a6acdc"/><rect x="378" y="260" width="4" height="4" fill="#2c3aa8"/><rect x="294" y="280" width="4" height="4" fill="#e27c38"/><rect x="302" y="276" width="4" height="4" fill="#3848b8"/><rect x="306" y="276" width="4" height="4" fill="#3848b8"/><rect x="310" y="276" width="4" height="4" fill="#e27c38"/><rect x="302" y="280" width="4" height="4" fill="#4a5ac4"/><rect x="302" y="284" width="4" height="4" fill="#3848b8"/><rect x="306" y="272" width="4" height="4" fill="#a6acdc"/><rect x="282" y="348" width="4" height="4" fill="#e27c38"/><rect x="278" y="348" width="4" height="4" fill="#3848b8"/><rect x="282" y="352" width="4" height="4" fill="#3848b8"/><rect x="350" y="260" width="4" height="4" fill="#4a5ac4"/><rect x="354" y="260" width="4" height="4" fill="#3848b8"/><rect x="350" y="256" width="4" height="4" fill="#e27c38"/><rect x="286" y="356" width="4" height="4" fill="#3848b8"/><rect x="270" y="424" width="4" height="4" fill="#3848b8"/><rect x="390" y="224" width="4" height="4" fill="#e27c38"/><rect x="362" y="264" width="4" height="4" fill="#3848b8"/><rect x="394" y="224" width="4" height="4" fill="#2c3aa8"/><rect x="226" y="432" width="4" height="4" fill="#e27c38"/><rect x="222" y="432" width="4" height="4" fill="#3848b8"/><rect x="226" y="436" width="4" height="4" fill="#3848b8"/><rect x="226" y="428" width="4" height="4" fill="#3848b8"/><rect x="374" y="236" width="4" height="4" fill="#3848b8"/><rect x="370" y="232" width="4" height="4" fill="#3848b8"/><rect x="374" y="240" width="4" height="4" fill="#a6acdc"/><rect x="250" y="412" width="4" height="4" fill="#e27c38"/><rect x="246" y="412" width="4" height="4" fill="#4a5ac4"/><rect x="250" y="408" width="4" height="4" fill="#2c3aa8"/><rect x="254" y="408" width="4" height="4" fill="#a6acdc"/><rect x="350" y="276" width="4" height="4" fill="#e27c38"/><rect x="330" y="272" width="4" height="4" fill="#3848b8"/><rect x="334" y="272" width="4" height="4" fill="#3848b8"/><rect x="326" y="272" width="4" height="4" fill="#3848b8"/><rect x="334" y="276" width="4" height="4" fill="#a6acdc"/><rect x="278" y="352" width="4" height="4" fill="#3848b8"/><rect x="278" y="340" width="4" height="4" fill="#3848b8"/><rect x="222" y="436" width="4" height="4" fill="#e27c38"/><rect x="230" y="436" width="4" height="4" fill="#3848b8"/><rect x="218" y="436" width="4" height="4" fill="#3848b8"/><rect x="382" y="232" width="4" height="4" fill="#e27c38"/><rect x="378" y="232" width="4" height="4" fill="#3848b8"/><rect x="278" y="336" width="4" height="4" fill="#3848b8"/><rect x="266" y="428" width="4" height="4" fill="#3848b8"/><rect x="258" y="376" width="4" height="4" fill="#e27c38"/><rect x="266" y="376" width="4" height="4" fill="#3848b8"/><rect x="254" y="376" width="4" height="4" fill="#3848b8"/><rect x="258" y="384" width="4" height="4" fill="#3848b8"/><rect x="258" y="372" width="4" height="4" fill="#3848b8"/><rect x="254" y="380" width="4" height="4" fill="#a6acdc"/><rect x="346" y="256" width="4" height="4" fill="#2c3aa8"/><rect x="350" y="264" width="4" height="4" fill="#3848b8"/><rect x="262" y="412" width="4" height="4" fill="#e27c38"/><rect x="262" y="404" width="4" height="4" fill="#3848b8"/><rect x="330" y="260" width="4" height="4" fill="#2c3aa8"/><rect x="406" y="244" width="4" height="4" fill="#e27c38"/><rect x="406" y="240" width="4" height="4" fill="#e27c38"/><rect x="330" y="276" width="4" height="4" fill="#4a5ac4"/><rect x="330" y="268" width="4" height="4" fill="#2c3aa8"/><rect x="234" y="384" width="4" height="4" fill="#e27c38"/><rect x="238" y="384" width="4" height="4" fill="#3848b8"/><rect x="242" y="384" width="4" height="4" fill="#4a5ac4"/><rect x="238" y="388" width="4" height="4" fill="#a6acdc"/><rect x="242" y="360" width="4" height="4" fill="#4a5ac4"/><rect x="238" y="368" width="4" height="4" fill="#e27c38"/><rect x="238" y="364" width="4" height="4" fill="#3848b8"/><rect x="358" y="272" width="4" height="4" fill="#e27c38"/><rect x="362" y="272" width="4" height="4" fill="#4a5ac4"/><rect x="358" y="268" width="4" height="4" fill="#3848b8"/><rect x="194" y="480" width="4" height="4" fill="#e27c38"/><rect x="190" y="472" width="4" height="4" fill="#3848b8"/><rect x="191" y="450" width="4" height="4" fill="#e27c38"/><rect x="192" y="465" width="4" height="4" fill="#e27c38"/><rect x="191" y="464" width="4" height="4" fill="#3848b8"/><rect x="192" y="450" width="4" height="4" fill="#e27c38"/><rect x="194" y="458" width="4" height="4" fill="#e27c38"/><rect x="190" y="466" width="4" height="4" fill="#3848b8"/><rect x="190" y="464" width="4" height="4" fill="#6a70c8"/><rect x="191" y="444" width="4" height="4" fill="#6a70c8"/><rect x="191" y="460" width="4" height="4" fill="#e27c38"/><rect x="193" y="482" width="4" height="4" fill="#6a70c8"/><rect x="190" y="487" width="4" height="4" fill="#6a70c8"/><rect x="194" y="482" width="4" height="4" fill="#e27c38"/><rect x="194" y="480" width="4" height="4" fill="#6a70c8"/><rect x="191" y="477" width="4" height="4" fill="#3848b8"/><rect x="194" y="448" width="4" height="4" fill="#e27c38"/><rect x="193" y="486" width="4" height="4" fill="#3848b8"/><rect x="319" y="490" width="4" height="4" fill="#3848b8"/><rect x="304" y="486" width="4" height="4" fill="#e27c38"/><rect x="332" y="489" width="4" height="4" fill="#3848b8"/><rect x="416" y="487" width="4" height="4" fill="#3848b8"/><rect x="242" y="487" width="4" height="4" fill="#3848b8"/><rect x="198" y="486" width="4" height="4" fill="#3848b8"/><rect x="216" y="486" width="4" height="4" fill="#3848b8"/><rect x="338" y="489" width="4" height="4" fill="#3848b8"/><rect x="355" y="488" width="4" height="4" fill="#3848b8"/><rect x="218" y="487" width="4" height="4" fill="#3848b8"/><rect x="345" y="486" width="4" height="4" fill="#3848b8"/><rect x="243" y="487" width="4" height="4" fill="#3848b8"/><rect x="387" y="490" width="4" height="4" fill="#e27c38"/><rect x="414" y="487" width="4" height="4" fill="#3848b8"/><rect x="441" y="489" width="4" height="4" fill="#e27c38"/><rect x="329" y="490" width="4" height="4" fill="#3848b8"/><rect x="423" y="486" width="4" height="4" fill="#3848b8"/><rect x="266" y="490" width="4" height="4" fill="#6a70c8"/><rect x="338" y="489" width="4" height="4" fill="#3848b8"/><rect x="385" y="490" width="4" height="4" fill="#e27c38"/><rect x="412" y="488" width="4" height="4" fill="#3848b8"/><rect x="267" y="490" width="4" height="4" fill="#3848b8"/><rect x="334" y="489" width="4" height="4" fill="#6a70c8"/><rect x="200" y="488" width="4" height="4" fill="#3848b8"/><rect x="438" y="486" width="4" height="4" fill="#3848b8"/><rect x="226" y="488" width="4" height="4" fill="#3848b8"/><rect x="382" y="486" width="4" height="4" fill="#3848b8"/><rect x="389" y="489" width="4" height="4" fill="#6a70c8"/><rect x="431" y="486" width="4" height="4" fill="#3848b8"/><rect x="321" y="487" width="4" height="4" fill="#3848b8"/><rect x="437" y="488" width="4" height="4" fill="#e27c38"/><rect x="378" y="489" width="4" height="4" fill="#3848b8"/><rect x="254" y="489" width="4" height="4" fill="#3848b8"/><rect x="418" y="487" width="4" height="4" fill="#3848b8"/><rect x="235" y="487" width="4" height="4" fill="#3848b8"/><rect x="344" y="486" width="4" height="4" fill="#e27c38"/><rect x="296" y="490" width="4" height="4" fill="#3848b8"/><rect x="219" y="486" width="4" height="4" fill="#6a70c8"/><rect x="250" y="488" width="4" height="4" fill="#3848b8"/><rect x="386" y="487" width="4" height="4" fill="#3848b8"/><rect x="220" y="490" width="4" height="4" fill="#6a70c8"/><rect x="337" y="489" width="4" height="4" fill="#3848b8"/><rect x="328" y="490" width="4" height="4" fill="#3848b8"/><rect x="254" y="489" width="4" height="4" fill="#3848b8"/><rect x="271" y="489" width="4" height="4" fill="#e27c38"/><rect x="198" y="489" width="4" height="4" fill="#6a70c8"/><rect x="361" y="487" width="4" height="4" fill="#3848b8"/><rect x="425" y="490" width="4" height="4" fill="#3848b8"/><rect x="310" y="489" width="4" height="4" fill="#3848b8"/><rect x="195" y="486" width="4" height="4" fill="#3848b8"/><rect x="436" y="490" width="4" height="4" fill="#6a70c8"/><rect x="238" y="489" width="4" height="4" fill="#3848b8"/><rect x="229" y="490" width="4" height="4" fill="#3848b8"/><rect x="386" y="486" width="4" height="4" fill="#e27c38"/><rect x="264" y="488" width="4" height="4" fill="#3848b8"/><rect x="409" y="490" width="4" height="4" fill="#6a70c8"/><rect x="416" y="490" width="4" height="4" fill="#3848b8"/><rect x="286" y="486" width="4" height="4" fill="#e27c38"/><rect x="397" y="486" width="4" height="4" fill="#3848b8"/><rect x="410" y="487" width="4" height="4" fill="#3848b8"/><rect x="411" y="486" width="4" height="4" fill="#3848b8"/><rect x="286" y="488" width="4" height="4" fill="#6a70c8"/><rect x="297" y="488" width="4" height="4" fill="#3848b8"/><rect x="293" y="486" width="4" height="4" fill="#e27c38"/><rect x="337" y="489" width="4" height="4" fill="#3848b8"/><rect x="261" y="489" width="4" height="4" fill="#3848b8"/><rect x="227" y="486" width="4" height="4" fill="#6a70c8"/><rect x="276" y="490" width="4" height="4" fill="#3848b8"/><rect x="412" y="488" width="4" height="4" fill="#3848b8"/><rect x="329" y="489" width="4" height="4" fill="#3848b8"/><rect x="368" y="488" width="4" height="4" fill="#3848b8"/><rect x="307" y="489" width="4" height="4" fill="#3848b8"/><rect x="288" y="487" width="4" height="4" fill="#3848b8"/><rect x="358" y="490" width="4" height="4" fill="#3848b8"/><rect x="257" y="486" width="4" height="4" fill="#3848b8"/><rect x="387" y="486" width="4" height="4" fill="#e27c38"/><rect x="240" y="486" width="4" height="4" fill="#3848b8"/><rect x="398" y="488" width="4" height="4" fill="#6a70c8"/><rect x="220" y="489" width="4" height="4" fill="#3848b8"/><rect x="304" y="486" width="4" height="4" fill="#3848b8"/><rect x="258" y="487" width="4" height="4" fill="#3848b8"/><rect x="276" y="490" width="4" height="4" fill="#e27c38"/><rect x="401" y="486" width="4" height="4" fill="#6a70c8"/><rect x="240" y="489" width="4" height="4" fill="#3848b8"/><rect x="320" y="486" width="4" height="4" fill="#3848b8"/><rect x="222" y="490" width="4" height="4" fill="#3848b8"/><rect x="332" y="488" width="4" height="4" fill="#6a70c8"/><rect x="252" y="486" width="4" height="4" fill="#6a70c8"/><rect x="207" y="487" width="4" height="4" fill="#3848b8"/><rect x="254" y="488" width="4" height="4" fill="#e27c38"/><rect x="435" y="487" width="4" height="4" fill="#3848b8"/><rect x="224" y="490" width="4" height="4" fill="#3848b8"/><rect x="421" y="488" width="4" height="4" fill="#e27c38"/><rect x="379" y="487" width="4" height="4" fill="#3848b8"/><rect x="352" y="487" width="4" height="4" fill="#3848b8"/><rect x="361" y="490" width="4" height="4" fill="#6a70c8"/><rect x="435" y="490" width="4" height="4" fill="#e27c38"/><rect x="208" y="490" width="4" height="4" fill="#3848b8"/><rect x="223" y="486" width="4" height="4" fill="#3848b8"/><rect x="281" y="487" width="4" height="4" fill="#3848b8"/><rect x="308" y="489" width="4" height="4" fill="#3848b8"/><rect x="429" y="489" width="4" height="4" fill="#3848b8"/><rect x="241" y="491" width="4" height="4" fill="#6a70c8"/><rect x="441" y="489" width="4" height="4" fill="#3848b8"/><rect x="285" y="491" width="4" height="4" fill="#3848b8"/><rect x="438" y="490" width="4" height="4" fill="#3848b8"/><rect x="437" y="489" width="4" height="4" fill="#3848b8"/><rect x="436" y="490" width="4" height="4" fill="#e27c38"/><rect x="312" y="489" width="4" height="4" fill="#3848b8"/><rect x="420" y="489" width="4" height="4" fill="#3848b8"/><rect x="344" y="490" width="4" height="4" fill="#3848b8"/><rect x="431" y="491" width="4" height="4" fill="#3848b8"/><rect x="220" y="490" width="4" height="4" fill="#e27c38"/><rect x="207" y="489" width="4" height="4" fill="#3848b8"/><rect x="234" y="490" width="4" height="4" fill="#e27c38"/><rect x="390" y="490" width="4" height="4" fill="#3848b8"/><rect x="365" y="491" width="4" height="4" fill="#3848b8"/><rect x="249" y="489" width="4" height="4" fill="#6a70c8"/><rect x="403" y="489" width="4" height="4" fill="#3848b8"/><rect x="279" y="490" width="4" height="4" fill="#3848b8"/><rect x="207" y="489" width="4" height="4" fill="#3848b8"/><rect x="296" y="489" width="4" height="4" fill="#3848b8"/><rect x="334" y="491" width="4" height="4" fill="#3848b8"/><rect x="246" y="490" width="4" height="4" fill="#3848b8"/><rect x="316" y="489" width="4" height="4" fill="#6a70c8"/><rect x="291" y="489" width="4" height="4" fill="#3848b8"/><rect x="412" y="490" width="4" height="4" fill="#6a70c8"/><rect x="436" y="491" width="4" height="4" fill="#3848b8"/><rect x="344" y="489" width="4" height="4" fill="#3848b8"/><rect x="441" y="490" width="4" height="4" fill="#e27c38"/><rect x="367" y="491" width="4" height="4" fill="#e27c38"/><rect x="279" y="490" width="4" height="4" fill="#3848b8"/><rect x="416" y="489" width="4" height="4" fill="#3848b8"/><rect x="233" y="489" width="4" height="4" fill="#6a70c8"/><rect x="419" y="491" width="4" height="4" fill="#3848b8"/><rect x="346" y="489" width="4" height="4" fill="#3848b8"/><rect x="271" y="491" width="4" height="4" fill="#3848b8"/><rect x="209" y="489" width="4" height="4" fill="#3848b8"/><rect x="429" y="489" width="4" height="4" fill="#3848b8"/><rect x="302" y="489" width="4" height="4" fill="#3848b8"/><rect x="299" y="490" width="4" height="4" fill="#3848b8"/><rect x="208" y="490" width="4" height="4" fill="#3848b8"/><rect x="432" y="489" width="4" height="4" fill="#3848b8"/><rect x="433" y="490" width="4" height="4" fill="#e27c38"/><rect x="269" y="489" width="4" height="4" fill="#3848b8"/><rect x="389" y="491" width="4" height="4" fill="#3848b8"/><rect x="391" y="491" width="4" height="4" fill="#3848b8"/><rect x="269" y="491" width="4" height="4" fill="#3848b8"/><rect x="437" y="491" width="4" height="4" fill="#3848b8"/><rect x="322" y="491" width="4" height="4" fill="#3848b8"/><rect x="415" y="490" width="4" height="4" fill="#3848b8"/><rect x="219" y="490" width="4" height="4" fill="#3848b8"/><rect x="244" y="489" width="4" height="4" fill="#6a70c8"/><rect x="227" y="489" width="4" height="4" fill="#3848b8"/><rect x="209" y="489" width="4" height="4" fill="#3848b8"/><rect x="271" y="491" width="4" height="4" fill="#3848b8"/><rect x="408" y="491" width="4" height="4" fill="#3848b8"/><rect x="288" y="490" width="4" height="4" fill="#3848b8"/><rect x="440" y="490" width="4" height="4" fill="#3848b8"/><rect x="376" y="491" width="4" height="4" fill="#6a70c8"/><rect x="212" y="489" width="4" height="4" fill="#3848b8"/><rect x="269" y="490" width="4" height="4" fill="#3848b8"/><rect x="312" y="490" width="4" height="4" fill="#6a70c8"/><rect x="205" y="489" width="4" height="4" fill="#3848b8"/><rect x="434" y="490" width="4" height="4" fill="#6a70c8"/><rect x="203" y="489" width="4" height="4" fill="#e27c38"/><rect x="397" y="491" width="4" height="4" fill="#3848b8"/><rect x="343" y="491" width="4" height="4" fill="#3848b8"/><rect x="276" y="490" width="4" height="4" fill="#6a70c8"/><rect x="442" y="491" width="4" height="4" fill="#3848b8"/><rect x="316" y="490" width="4" height="4" fill="#e27c38"/><rect x="345" y="490" width="4" height="4" fill="#3848b8"/><rect x="299" y="490" width="4" height="4" fill="#e27c38"/><rect x="431" y="489" width="4" height="4" fill="#3848b8"/><rect x="219" y="490" width="4" height="4" fill="#3848b8"/><rect x="419" y="490" width="4" height="4" fill="#6a70c8"/><rect x="267" y="491" width="4" height="4" fill="#6a70c8"/><rect x="391" y="491" width="4" height="4" fill="#3848b8"/><rect x="222" y="489" width="4" height="4" fill="#3848b8"/><rect x="437" y="489" width="4" height="4" fill="#6a70c8"/><rect x="359" y="451" width="4" height="4" fill="#3848b8"/><rect x="357" y="484" width="4" height="4" fill="#3848b8"/><rect x="355" y="448" width="4" height="4" fill="#3848b8"/><rect x="357" y="452" width="4" height="4" fill="#3848b8"/><rect x="360" y="464" width="4" height="4" fill="#3848b8"/><rect x="360" y="471" width="4" height="4" fill="#6a70c8"/><rect x="356" y="467" width="4" height="4" fill="#e27c38"/><rect x="357" y="488" width="4" height="4" fill="#e27c38"/><rect x="357" y="482" width="4" height="4" fill="#3848b8"/><rect x="358" y="471" width="4" height="4" fill="#6a70c8"/><rect x="358" y="488" width="4" height="4" fill="#3848b8"/><rect x="357" y="460" width="4" height="4" fill="#3848b8"/><rect x="360" y="486" width="4" height="4" fill="#3848b8"/><rect x="360" y="479" width="4" height="4" fill="#3848b8"/><rect x="357" y="464" width="4" height="4" fill="#6a70c8"/><rect x="360" y="451" width="4" height="4" fill="#e27c38"/><rect x="360" y="476" width="4" height="4" fill="#3848b8"/><rect x="358" y="476" width="4" height="4" fill="#3848b8"/><rect x="268" y="404" width="4" height="4" fill="#3848b8"/><rect x="270" y="420" width="4" height="4" fill="#3848b8"/><rect x="268" y="409" width="4" height="4" fill="#3848b8"/><rect x="269" y="427" width="4" height="4" fill="#3848b8"/><rect x="271" y="412" width="4" height="4" fill="#e27c38"/><rect x="268" y="440" width="4" height="4" fill="#3848b8"/><rect x="268" y="414" width="4" height="4" fill="#e27c38"/><rect x="272" y="445" width="4" height="4" fill="#3848b8"/><rect x="270" y="408" width="4" height="4" fill="#3848b8"/><rect x="269" y="423" width="4" height="4" fill="#e27c38"/><rect x="253" y="442" width="4" height="4" fill="#e27c38"/><rect x="258" y="442" width="4" height="4" fill="#e27c38"/><rect x="260" y="444" width="4" height="4" fill="#3848b8"/><rect x="248" y="446" width="4" height="4" fill="#e27c38"/><rect x="209" y="442" width="4" height="4" fill="#3848b8"/><rect x="246" y="446" width="4" height="4" fill="#6a70c8"/><rect x="256" y="442" width="4" height="4" fill="#3848b8"/><rect x="194" y="445" width="4" height="4" fill="#3848b8"/><rect x="264" y="446" width="4" height="4" fill="#3848b8"/><rect x="215" y="444" width="4" height="4" fill="#3848b8"/><rect x="267" y="442" width="4" height="4" fill="#e27c38"/><rect x="200" y="444" width="4" height="4" fill="#e27c38"/><rect x="249" y="446" width="4" height="4" fill="#3848b8"/><rect x="215" y="444" width="4" height="4" fill="#e27c38"/><rect x="194" y="446" width="4" height="4" fill="#3848b8"/><rect x="268" y="442" width="4" height="4" fill="#3848b8"/><rect x="256" y="443" width="4" height="4" fill="#3848b8"/><rect x="248" y="446" width="4" height="4" fill="#3848b8"/><rect x="265" y="444" width="4" height="4" fill="#6a70c8"/><rect x="238" y="442" width="4" height="4" fill="#3848b8"/><rect x="347" y="442" width="4" height="4" fill="#3848b8"/><rect x="292" y="410" width="4" height="4" fill="#e27c38"/><rect x="291" y="407" width="4" height="4" fill="#3848b8"/><rect x="321" y="439" width="4" height="4" fill="#e27c38"/><rect x="297" y="416" width="4" height="4" fill="#e27c38"/><rect x="291" y="409" width="4" height="4" fill="#3848b8"/><rect x="315" y="438" width="4" height="4" fill="#e27c38"/><rect x="309" y="437" width="4" height="4" fill="#3848b8"/><rect x="290" y="402" width="4" height="4" fill="#3848b8"/><rect x="328" y="436" width="4" height="4" fill="#3848b8"/><rect x="291" y="406" width="4" height="4" fill="#3848b8"/><rect x="331" y="437" width="4" height="4" fill="#3848b8"/><rect x="296" y="416" width="4" height="4" fill="#e27c38"/><rect x="303" y="429" width="4" height="4" fill="#3848b8"/><rect x="307" y="427" width="4" height="4" fill="#3848b8"/><rect x="304" y="429" width="4" height="4" fill="#3848b8"/><rect x="295" y="412" width="4" height="4" fill="#3848b8"/><rect x="345" y="442" width="4" height="4" fill="#3848b8"/><rect x="334" y="438" width="4" height="4" fill="#3848b8"/><rect x="287" y="400" width="4" height="4" fill="#6a70c8"/><rect x="302" y="423" width="4" height="4" fill="#3848b8"/><rect x="339" y="440" width="4" height="4" fill="#3848b8"/><rect x="301" y="423" width="4" height="4" fill="#3848b8"/><rect x="320" y="438" width="4" height="4" fill="#3848b8"/><rect x="300" y="426" width="4" height="4" fill="#3848b8"/><rect x="297" y="421" width="4" height="4" fill="#3848b8"/><rect x="327" y="440" width="4" height="4" fill="#3848b8"/><rect x="349" y="445" width="4" height="4" fill="#3848b8"/><rect x="289" y="345" width="4" height="4" fill="#3848b8"/><rect x="285" y="340" width="4" height="4" fill="#3848b8"/><rect x="285" y="340" width="4" height="4" fill="#e27c38"/><rect x="286" y="374" width="4" height="4" fill="#6a70c8"/><rect x="294" y="335" width="4" height="4" fill="#3848b8"/><rect x="282" y="381" width="4" height="4" fill="#e27c38"/><rect x="281" y="352" width="4" height="4" fill="#e27c38"/><rect x="287" y="337" width="4" height="4" fill="#e27c38"/><rect x="292" y="300" width="4" height="4" fill="#3848b8"/><rect x="290" y="380" width="4" height="4" fill="#3848b8"/><rect x="294" y="312" width="4" height="4" fill="#3848b8"/><rect x="288" y="340" width="4" height="4" fill="#e27c38"/><rect x="292" y="343" width="4" height="4" fill="#3848b8"/><rect x="290" y="311" width="4" height="4" fill="#e27c38"/><rect x="289" y="335" width="4" height="4" fill="#3848b8"/><rect x="294" y="304" width="4" height="4" fill="#6a70c8"/><rect x="281" y="356" width="4" height="4" fill="#3848b8"/><rect x="295" y="327" width="4" height="4" fill="#3848b8"/><rect x="287" y="387" width="4" height="4" fill="#3848b8"/><rect x="289" y="397" width="4" height="4" fill="#3848b8"/><rect x="287" y="315" width="4" height="4" fill="#3848b8"/><rect x="291" y="385" width="4" height="4" fill="#3848b8"/><rect x="287" y="353" width="4" height="4" fill="#3848b8"/><rect x="295" y="305" width="4" height="4" fill="#6a70c8"/><rect x="287" y="345" width="4" height="4" fill="#6a70c8"/><rect x="285" y="337" width="4" height="4" fill="#3848b8"/><rect x="288" y="333" width="4" height="4" fill="#3848b8"/><rect x="280" y="367" width="4" height="4" fill="#e27c38"/><rect x="292" y="355" width="4" height="4" fill="#6a70c8"/><rect x="290" y="314" width="4" height="4" fill="#3848b8"/><rect x="292" y="386" width="4" height="4" fill="#6a70c8"/><rect x="289" y="332" width="4" height="4" fill="#3848b8"/><rect x="282" y="389" width="4" height="4" fill="#e27c38"/><rect x="281" y="377" width="4" height="4" fill="#3848b8"/><rect x="290" y="312" width="4" height="4" fill="#3848b8"/><rect x="282" y="368" width="4" height="4" fill="#6a70c8"/><rect x="292" y="388" width="4" height="4" fill="#6a70c8"/><rect x="285" y="319" width="4" height="4" fill="#3848b8"/><rect x="289" y="334" width="4" height="4" fill="#3848b8"/><rect x="288" y="308" width="4" height="4" fill="#e27c38"/><rect x="270" y="338" width="4" height="4" fill="#3848b8"/><rect x="280" y="374" width="4" height="4" fill="#3848b8"/><rect x="269" y="344" width="4" height="4" fill="#e27c38"/><rect x="272" y="347" width="4" height="4" fill="#3848b8"/><rect x="271" y="368" width="4" height="4" fill="#3848b8"/><rect x="265" y="433" width="4" height="4" fill="#3848b8"/><rect x="279" y="348" width="4" height="4" fill="#3848b8"/><rect x="276" y="384" width="4" height="4" fill="#3848b8"/><rect x="272" y="382" width="4" height="4" fill="#3848b8"/><rect x="268" y="342" width="4" height="4" fill="#6a70c8"/><rect x="267" y="433" width="4" height="4" fill="#3848b8"/><rect x="278" y="353" width="4" height="4" fill="#e27c38"/><rect x="274" y="374" width="4" height="4" fill="#3848b8"/><rect x="277" y="368" width="4" height="4" fill="#3848b8"/><rect x="278" y="362" width="4" height="4" fill="#3848b8"/><rect x="272" y="341" width="4" height="4" fill="#3848b8"/><rect x="280" y="389" width="4" height="4" fill="#3848b8"/><rect x="267" y="413" width="4" height="4" fill="#3848b8"/><rect x="280" y="366" width="4" height="4" fill="#3848b8"/><rect x="268" y="412" width="4" height="4" fill="#3848b8"/><rect x="275" y="431" width="4" height="4" fill="#3848b8"/><rect x="280" y="346" width="4" height="4" fill="#3848b8"/><rect x="270" y="397" width="4" height="4" fill="#e27c38"/><rect x="270" y="425" width="4" height="4" fill="#3848b8"/><rect x="276" y="419" width="4" height="4" fill="#e27c38"/><rect x="273" y="354" width="4" height="4" fill="#e27c38"/><rect x="266" y="439" width="4" height="4" fill="#e27c38"/><rect x="277" y="345" width="4" height="4" fill="#3848b8"/><rect x="273" y="380" width="4" height="4" fill="#3848b8"/><rect x="271" y="358" width="4" height="4" fill="#3848b8"/><rect x="278" y="362" width="4" height="4" fill="#3848b8"/><rect x="273" y="359" width="4" height="4" fill="#3848b8"/><rect x="278" y="375" width="4" height="4" fill="#3848b8"/><rect x="273" y="346" width="4" height="4" fill="#3848b8"/><rect x="275" y="357" width="4" height="4" fill="#3848b8"/><rect x="269" y="435" width="4" height="4" fill="#3848b8"/><rect x="270" y="348" width="4" height="4" fill="#e27c38"/><rect x="281" y="379" width="4" height="4" fill="#3848b8"/><rect x="271" y="419" width="4" height="4" fill="#3848b8"/><rect x="280" y="383" width="4" height="4" fill="#e27c38"/><rect x="267" y="407" width="4" height="4" fill="#e27c38"/><rect x="267" y="419" width="4" height="4" fill="#3848b8"/><rect x="271" y="439" width="4" height="4" fill="#e27c38"/><rect x="274" y="386" width="4" height="4" fill="#3848b8"/><rect x="278" y="348" width="4" height="4" fill="#e27c38"/><rect x="279" y="348" width="4" height="4" fill="#e27c38"/><rect x="280" y="350" width="4" height="4" fill="#3848b8"/><rect x="283" y="379" width="4" height="4" fill="#3848b8"/><rect x="280" y="373" width="4" height="4" fill="#6a70c8"/><rect x="270" y="428" width="4" height="4" fill="#3848b8"/><rect x="279" y="396" width="4" height="4" fill="#3848b8"/><rect x="281" y="351" width="4" height="4" fill="#e27c38"/><rect x="274" y="385" width="4" height="4" fill="#3848b8"/><rect x="276" y="389" width="4" height="4" fill="#3848b8"/><rect x="278" y="350" width="4" height="4" fill="#3848b8"/><rect x="273" y="397" width="4" height="4" fill="#e27c38"/><rect x="273" y="439" width="4" height="4" fill="#e27c38"/><rect x="267" y="409" width="4" height="4" fill="#3848b8"/><rect x="276" y="409" width="4" height="4" fill="#3848b8"/><rect x="273" y="422" width="4" height="4" fill="#6a70c8"/><rect x="283" y="401" width="4" height="4" fill="#3848b8"/><rect x="285" y="397" width="4" height="4" fill="#e27c38"/><rect x="284" y="379" width="4" height="4" fill="#e27c38"/><rect x="281" y="383" width="4" height="4" fill="#6a70c8"/><rect x="289" y="405" width="4" height="4" fill="#3848b8"/><rect x="284" y="384" width="4" height="4" fill="#e27c38"/><rect x="280" y="388" width="4" height="4" fill="#3848b8"/><rect x="282" y="387" width="4" height="4" fill="#6a70c8"/><rect x="280" y="378" width="4" height="4" fill="#3848b8"/><rect x="287" y="396" width="4" height="4" fill="#e27c38"/><rect x="282" y="388" width="4" height="4" fill="#3848b8"/><rect x="284" y="395" width="4" height="4" fill="#3848b8"/><rect x="285" y="399" width="4" height="4" fill="#6a70c8"/><rect x="287" y="401" width="4" height="4" fill="#e27c38"/><rect x="350" y="275" width="4" height="4" fill="#6a70c8"/><rect x="392" y="270" width="4" height="4" fill="#e27c38"/><rect x="325" y="285" width="4" height="4" fill="#3848b8"/><rect x="312" y="297" width="4" height="4" fill="#3848b8"/><rect x="347" y="278" width="4" height="4" fill="#e27c38"/><rect x="388" y="269" width="4" height="4" fill="#6a70c8"/><rect x="334" y="282" width="4" height="4" fill="#3848b8"/><rect x="358" y="274" width="4" height="4" fill="#e27c38"/><rect x="319" y="295" width="4" height="4" fill="#3848b8"/><rect x="408" y="269" width="4" height="4" fill="#e27c38"/><rect x="358" y="275" width="4" height="4" fill="#6a70c8"/><rect x="377" y="268" width="4" height="4" fill="#6a70c8"/><rect x="304" y="310" width="4" height="4" fill="#3848b8"/><rect x="332" y="284" width="4" height="4" fill="#6a70c8"/><rect x="392" y="268" width="4" height="4" fill="#e27c38"/><rect x="297" y="309" width="4" height="4" fill="#e27c38"/><rect x="407" y="263" width="4" height="4" fill="#3848b8"/><rect x="322" y="292" width="4" height="4" fill="#3848b8"/><rect x="301" y="313" width="4" height="4" fill="#e27c38"/><rect x="408" y="266" width="4" height="4" fill="#3848b8"/><rect x="313" y="298" width="4" height="4" fill="#3848b8"/><rect x="331" y="281" width="4" height="4" fill="#e27c38"/><rect x="377" y="266" width="4" height="4" fill="#e27c38"/><rect x="344" y="280" width="4" height="4" fill="#e27c38"/><rect x="300" y="302" width="4" height="4" fill="#3848b8"/><rect x="351" y="279" width="4" height="4" fill="#3848b8"/><rect x="320" y="289" width="4" height="4" fill="#e27c38"/><rect x="400" y="266" width="4" height="4" fill="#e27c38"/><rect x="388" y="265" width="4" height="4" fill="#3848b8"/><rect x="293" y="322" width="4" height="4" fill="#3848b8"/><rect x="393" y="269" width="4" height="4" fill="#3848b8"/><rect x="326" y="284" width="4" height="4" fill="#3848b8"/><rect x="314" y="300" width="4" height="4" fill="#3848b8"/><rect x="395" y="272" width="4" height="4" fill="#3848b8"/><rect x="312" y="300" width="4" height="4" fill="#e27c38"/><rect x="399" y="263" width="4" height="4" fill="#e27c38"/><rect x="306" y="298" width="4" height="4" fill="#e27c38"/><rect x="360" y="271" width="4" height="4" fill="#3848b8"/><rect x="408" y="270" width="4" height="4" fill="#3848b8"/><rect x="291" y="330" width="4" height="4" fill="#e27c38"/><rect x="352" y="281" width="4" height="4" fill="#e27c38"/><rect x="368" y="274" width="4" height="4" fill="#3848b8"/><rect x="328" y="286" width="4" height="4" fill="#3848b8"/><rect x="309" y="303" width="4" height="4" fill="#3848b8"/><rect x="321" y="285" width="4" height="4" fill="#3848b8"/><rect x="298" y="399" width="4" height="4" fill="#3848b8"/><rect x="294" y="354" width="4" height="4" fill="#e27c38"/><rect x="295" y="359" width="4" height="4" fill="#3848b8"/><rect x="301" y="358" width="4" height="4" fill="#e27c38"/><rect x="324" y="427" width="4" height="4" fill="#3848b8"/><rect x="306" y="416" width="4" height="4" fill="#3848b8"/><rect x="309" y="417" width="4" height="4" fill="#3848b8"/><rect x="311" y="413" width="4" height="4" fill="#6a70c8"/><rect x="335" y="434" width="4" height="4" fill="#3848b8"/><rect x="301" y="376" width="4" height="4" fill="#3848b8"/><rect x="301" y="379" width="4" height="4" fill="#3848b8"/><rect x="312" y="422" width="4" height="4" fill="#6a70c8"/><rect x="297" y="389" width="4" height="4" fill="#e27c38"/><rect x="326" y="427" width="4" height="4" fill="#e27c38"/><rect x="339" y="431" width="4" height="4" fill="#3848b8"/><rect x="352" y="440" width="4" height="4" fill="#3848b8"/><rect x="296" y="372" width="4" height="4" fill="#e27c38"/><rect x="314" y="423" width="4" height="4" fill="#e27c38"/><rect x="350" y="437" width="4" height="4" fill="#3848b8"/><rect x="317" y="424" width="4" height="4" fill="#3848b8"/><rect x="295" y="363" width="4" height="4" fill="#e27c38"/><rect x="356" y="436" width="4" height="4" fill="#3848b8"/><rect x="322" y="430" width="4" height="4" fill="#3848b8"/><rect x="303" y="397" width="4" height="4" fill="#3848b8"/><rect x="326" y="431" width="4" height="4" fill="#e27c38"/><rect x="347" y="433" width="4" height="4" fill="#6a70c8"/><rect x="303" y="409" width="4" height="4" fill="#6a70c8"/><rect x="294" y="364" width="4" height="4" fill="#e27c38"/><rect x="320" y="428" width="4" height="4" fill="#6a70c8"/><rect x="302" y="387" width="4" height="4" fill="#3848b8"/><rect x="306" y="401" width="12" height="3" fill="#8a3a7a" opacity="0.35"/><rect x="310" y="346" width="12" height="3" fill="#8a3a7a" opacity="0.35"/><rect x="314" y="332" width="12" height="3" fill="#8a3a7a" opacity="0.35"/><rect x="313" y="378" width="12" height="3" fill="#8a3a7a" opacity="0.35"/><rect x="312" y="375" width="12" height="3" fill="#8a3a7a" opacity="0.35"/><rect x="315" y="418" width="12" height="3" fill="#8a3a7a" opacity="0.35"/><rect x="302" y="403" width="12" height="3" fill="#8a3a7a" opacity="0.35"/><rect x="309" y="334" width="12" height="3" fill="#8a3a7a" opacity="0.35"/><rect x="305" y="341" width="12" height="3" fill="#8a3a7a" opacity="0.35"/><rect x="302" y="350" width="12" height="3" fill="#8a3a7a" opacity="0.35"/><rect x="301" y="356" width="12" height="3" fill="#8a3a7a" opacity="0.35"/><rect x="306" y="370" width="12" height="3" fill="#8a3a7a" opacity="0.35"/><rect x="311" y="377" width="12" height="3" fill="#8a3a7a" opacity="0.35"/><rect x="315" y="337" width="12" height="3" fill="#8a3a7a" opacity="0.35"/><rect x="216" y="496" width="7" height="2.5" fill="#e27c38" opacity="0.8"/><rect x="237" y="496" width="7" height="2.5" fill="#e27c38" opacity="0.8"/><rect x="256" y="496" width="7" height="2.5" fill="#e27c38" opacity="0.8"/><rect x="300" y="496" width="7" height="2.5" fill="#e27c38" opacity="0.8"/><rect x="318" y="496" width="7" height="2.5" fill="#e27c38" opacity="0.8"/><rect x="336" y="496" width="7" height="2.5" fill="#e27c38" opacity="0.8"/><rect x="372" y="496" width="7" height="2.5" fill="#e27c38" opacity="0.8"/><rect x="396" y="496" width="7" height="2.5" fill="#e27c38" opacity="0.8"/><rect x="415" y="496" width="7" height="2.5" fill="#e27c38" opacity="0.8"/><rect x="196" y="493" width="9" height="13" fill="#3848b8"/><rect x="196" y="495" width="9" height="4" fill="#e27c38"/><rect x="275" y="493" width="9" height="13" fill="#3848b8"/><rect x="275" y="495" width="9" height="4" fill="#e27c38"/><rect x="355" y="493" width="9" height="13" fill="#3848b8"/><rect x="355" y="495" width="9" height="4" fill="#e27c38"/><line x1="352" y1="298" x2="362" y2="310" stroke="#8a3a78" stroke-width="1.6" opacity="0.5"/><rect x="349.5" y="295.5" width="5" height="5" fill="#9c4a96" opacity="0.7"/><line x1="311" y1="364" x2="332" y2="366" stroke="#8a3a78" stroke-width="1.6" opacity="0.5"/><rect x="308.5" y="361.5" width="5" height="5" fill="#9c4a96" opacity="0.7"/><line x1="316" y1="408" x2="336" y2="404" stroke="#8a3a78" stroke-width="1.6" opacity="0.5"/><rect x="313.5" y="405.5" width="5" height="5" fill="#9c4a96" opacity="0.7"/><line x1="339" y1="423" x2="352" y2="427" stroke="#8a3a78" stroke-width="1.6" opacity="0.5"/><rect x="336.5" y="420.5" width="5" height="5" fill="#9c4a96" opacity="0.7"/><line x1="312" y1="352" x2="330" y2="350" stroke="#8a3a78" stroke-width="1.6" opacity="0.5"/><rect x="309.5" y="349.5" width="5" height="5" fill="#9c4a96" opacity="0.7"/></g>
<g filter="url(#soft)"><rect x="616" y="222" width="6" height="64" fill="#3848b8"/><rect x="622" y="222" width="11" height="5" fill="#3c4cc0"/><rect x="616" y="222" width="6" height="4" fill="#e27c38"/><rect x="622" y="241" width="11" height="5" fill="#3c4cc0"/><rect x="616" y="241" width="6" height="4" fill="#e27c38"/><rect x="622" y="256" width="11" height="5" fill="#3c4cc0"/><rect x="616" y="256" width="6" height="4" fill="#e27c38"/><rect x="622" y="270" width="11" height="5" fill="#3c4cc0"/><rect x="616" y="270" width="6" height="4" fill="#e27c38"/></g>
<g filter="url(#soft)"><rect x="833" y="222" width="6" height="64" fill="#3848b8"/><rect x="839" y="222" width="11" height="5" fill="#3c4cc0"/><rect x="833" y="222" width="6" height="4" fill="#e27c38"/><rect x="839" y="241" width="11" height="5" fill="#3c4cc0"/><rect x="833" y="241" width="6" height="4" fill="#e27c38"/><rect x="839" y="256" width="11" height="5" fill="#3c4cc0"/><rect x="833" y="256" width="6" height="4" fill="#e27c38"/><rect x="839" y="270" width="11" height="5" fill="#3c4cc0"/><rect x="833" y="270" width="6" height="4" fill="#e27c38"/></g>
<g filter="url(#soft)"><rect x="1050" y="222" width="6" height="64" fill="#3848b8"/><rect x="1056" y="222" width="11" height="5" fill="#3c4cc0"/><rect x="1050" y="222" width="6" height="4" fill="#e27c38"/><rect x="1056" y="241" width="11" height="5" fill="#3c4cc0"/><rect x="1050" y="241" width="6" height="4" fill="#e27c38"/><rect x="1056" y="256" width="11" height="5" fill="#3c4cc0"/><rect x="1050" y="256" width="6" height="4" fill="#e27c38"/><rect x="1056" y="270" width="11" height="5" fill="#3c4cc0"/><rect x="1050" y="270" width="6" height="4" fill="#e27c38"/></g>
<g filter="url(#soft)"><rect x="1267" y="222" width="6" height="64" fill="#3848b8"/><rect x="1273" y="222" width="11" height="5" fill="#3c4cc0"/><rect x="1267" y="222" width="6" height="4" fill="#e27c38"/><rect x="1273" y="241" width="11" height="5" fill="#3c4cc0"/><rect x="1267" y="241" width="6" height="4" fill="#e27c38"/><rect x="1273" y="256" width="11" height="5" fill="#3c4cc0"/><rect x="1267" y="256" width="6" height="4" fill="#e27c38"/><rect x="1273" y="270" width="11" height="5" fill="#3c4cc0"/><rect x="1267" y="270" width="6" height="4" fill="#e27c38"/></g>
<g filter="url(#soft)"><rect x="1484" y="222" width="6" height="64" fill="#3848b8"/><rect x="1490" y="222" width="11" height="5" fill="#3c4cc0"/><rect x="1484" y="222" width="6" height="4" fill="#e27c38"/><rect x="1490" y="241" width="11" height="5" fill="#3c4cc0"/><rect x="1484" y="241" width="6" height="4" fill="#e27c38"/><rect x="1490" y="256" width="11" height="5" fill="#3c4cc0"/><rect x="1484" y="256" width="6" height="4" fill="#e27c38"/><rect x="1490" y="270" width="11" height="5" fill="#3c4cc0"/><rect x="1484" y="270" width="6" height="4" fill="#e27c38"/></g>
<g filter="url(#soft)"><rect x="629" y="489" width="15" height="7" fill="#3848b8"/><rect x="629" y="496" width="5" height="3" fill="#e27c38"/><rect x="832" y="489" width="17" height="7" fill="#3848b8"/><rect x="832" y="496" width="5" height="3" fill="#e27c38"/><rect x="1037" y="489" width="17" height="7" fill="#3848b8"/><rect x="1037" y="496" width="5" height="3" fill="#e27c38"/><rect x="1241" y="489" width="18" height="7" fill="#3848b8"/><rect x="1241" y="496" width="5" height="3" fill="#e27c38"/><rect x="1440" y="492" width="24" height="7" fill="#3848b8"/><rect x="1440" y="499" width="10" height="9" fill="#3848b8"/></g>
<rect x="545" y="308" width="2.5" height="21" fill="#9a3a80" opacity="0.55"/><rect x="542.5" y="309" width="7.5" height="5" fill="#a4489a" opacity="0.75"/>
<rect x="896" y="309" width="2.5" height="21" fill="#9a3a80" opacity="0.55"/><rect x="893.5" y="310" width="7.5" height="5" fill="#a4489a" opacity="0.75"/>
<rect x="1248" y="309" width="2.5" height="21" fill="#9a3a80" opacity="0.55"/><rect x="1245.5" y="310" width="7.5" height="5" fill="#a4489a" opacity="0.75"/>
<rect x="417" y="364" width="2.5" height="21" fill="#9a3a80" opacity="0.55"/><rect x="414.5" y="365" width="7.5" height="5" fill="#a4489a" opacity="0.75"/>
<rect x="407" y="404" width="2.5" height="21" fill="#9a3a80" opacity="0.55"/><rect x="404.5" y="405" width="7.5" height="5" fill="#a4489a" opacity="0.75"/>
<rect x="148" y="488" width="5" height="3" fill="#c8d484" opacity="0.85"/>
<rect x="156" y="488" width="5" height="3" fill="#c8d484" opacity="0.85"/>
<rect x="164" y="488" width="5" height="3" fill="#c8d484" opacity="0.85"/>
<rect x="172" y="488" width="5" height="3" fill="#c8d484" opacity="0.85"/>
<rect x="180" y="488" width="5" height="3" fill="#c8d484" opacity="0.85"/>
<rect x="188" y="488" width="5" height="3" fill="#c8d484" opacity="0.85"/>
<rect x="1453" y="488" width="5" height="3" fill="#c8d484" opacity="0.85"/>
<rect x="1461" y="488" width="5" height="3" fill="#c8d484" opacity="0.85"/>
<rect x="1469" y="488" width="5" height="3" fill="#c8d484" opacity="0.85"/>
<rect x="1477" y="488" width="5" height="3" fill="#c8d484" opacity="0.85"/>
<rect x="1485" y="488" width="5" height="3" fill="#c8d484" opacity="0.85"/>
<rect x="1493" y="488" width="5" height="3" fill="#c8d484" opacity="0.85"/>
<rect x="1501" y="488" width="5" height="3" fill="#c8d484" opacity="0.85"/>
<rect x="1509" y="488" width="5" height="3" fill="#c8d484" opacity="0.85"/>
<rect x="1517" y="488" width="5" height="3" fill="#c8d484" opacity="0.85"/>
<rect x="1525" y="488" width="5" height="3" fill="#c8d484" opacity="0.85"/>
<rect x="1533" y="488" width="5" height="3" fill="#c8d484" opacity="0.85"/>
<rect x="1486.5" y="439" width="4" height="51" fill="#c8d484" opacity="0.9"/>
<rect x="1490" y="424" width="6" height="4" fill="#c8d484"/><rect x="1492" y="428" width="2.5" height="6" fill="#c8d484"/>
<rect x="269.5" y="132" width="2.6" height="179" fill="#3a6fc1"/>
<rect x="387.8" y="174.6" width="3" height="45" fill="#3a6fc1"/>
<rect x="1482" y="131.2" width="3" height="87" fill="#3a6fc1"/>
<rect x="300" y="141.2" width="1150" height="2.6" fill="#3a6fc1"/>
<rect x="420" y="188.2" width="1030" height="2.6" fill="#3a6fc1"/>
<polygon points="272,142.4 308.5,132.8 308.5,152.4" fill="#3a6fc1"/>
<polygon points="1482,142.4 1446,132.8 1446,152.4" fill="#3a6fc1"/>
<polygon points="390.5,189.5 426.5,179.8 426.5,199.4" fill="#3a6fc1"/>
<polygon points="1482,189.5 1446,179.8 1446,199.4" fill="#3a6fc1"/>
<line x1="533" y1="114" x2="533" y2="229" stroke="#dfe69a" stroke-width="6.5"/>
<line x1="533" y1="114.5" x2="533" y2="229" stroke="#b6c43a" stroke-width="3.6"/>
<polygon points="528,224 538,224 533,233" fill="#a4b02c"/>
<line x1="1309" y1="115" x2="1365.4" y2="217" stroke="#bcc83c" stroke-width="2.8"/>
<line x1="1365.4" y1="217" x2="1450" y2="370" stroke="#a6aa2c" stroke-width="2.8"/>
<polygon points="1445,365 1452,361.5 1451,373" fill="#a8b030"/>
<line x1="150" y1="370" x2="192" y2="466" stroke="#bccb44" stroke-width="2.8"/>
<polygon points="186,464 195,460 193.5,471" fill="#b9c73a"/>
<line x1="611.5" y1="540.5" x2="611.5" y2="503" stroke="#dfe69a" stroke-width="6.5"/>
<line x1="611.5" y1="540" x2="611.5" y2="503" stroke="#b0be36" stroke-width="3.6"/>
<polygon points="606,503 617,503 611.5,495" fill="#b9c73a"/>
<path transform="translate(0 2.2)" d="M199.5,516.5 C200,532 208,541.5 222,541.5 L287,541.5 L310.7,565.5 L324,541.5 L406,541.5 C418,541.5 426,532 426.5,516.5" fill="none" stroke="#d4d4d4" stroke-width="2.0"/>
<path transform="translate(0 2.2)" d="M426.5,516.5 C427,532 435,541.5 449,541.5 L905,541.5 L928.5,566.5 L952,541.5 L1430,541.5 C1443,541.5 1451,532 1451,516.5" fill="none" stroke="#d4d4d4" stroke-width="2.0"/>
<path transform="translate(0 0)" d="M199.5,516.5 C200,532 208,541.5 222,541.5 L287,541.5 L310.7,565.5 L324,541.5 L406,541.5 C418,541.5 426,532 426.5,516.5" fill="none" stroke="#9c9c9c" stroke-width="2.3"/>
<path transform="translate(0 0)" d="M426.5,516.5 C427,532 435,541.5 449,541.5 L905,541.5 L928.5,566.5 L952,541.5 L1430,541.5 C1443,541.5 1451,532 1451,516.5" fill="none" stroke="#9c9c9c" stroke-width="2.3"/>
<rect x="616.4" y="344.8" width="339.5" height="64.6" fill="#ffffff"/>
<text transform="translate(274 90) scale(1 0.98)" font-style="italic">Z</text>
<text transform="translate(320.5 90) scale(1 0.98)">symmetric constraint</text>
<text transform="translate(749.5 135.8) scale(1 1)" font-size="56">936.78 mm</text>
<text transform="translate(811 185) scale(1 1)">843.88 mm</text>
<text transform="translate(1044.2 93.8) scale(1 0.98)" font-style="italic">X</text>
<text transform="translate(1094.8 93.8) scale(1 0.98)">symmetric constraint</text>
<text transform="translate(623.4 394.6) scale(1 0.98)" font-size="56">Inner pressure</text>
<text transform="translate(64.6 280.3) scale(1 0.98)" font-size="55.8">Axial</text>
<text transform="translate(8.6 346.2) scale(1 0.98)">elongation</text>
<text transform="translate(416 607.9) scale(1 0.98)" font-style="italic">Y</text>
<text transform="translate(458.5 607.9) scale(1 0.98)">symmetric constraint</text>
<text transform="translate(174.2 660.1) scale(1 0.98)" font-size="56.1">Dome region</text>
<text transform="translate(790.7 659.5) scale(1 0.98)">Cylindrical region</text>
</g></svg>
</body></html>
